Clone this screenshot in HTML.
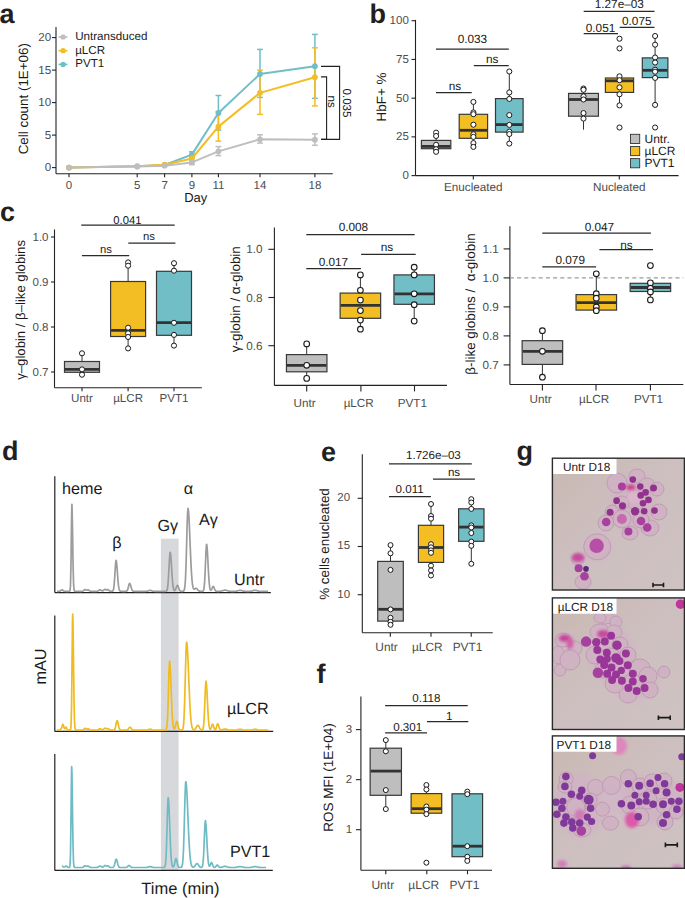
<!DOCTYPE html>
<html><head><meta charset="utf-8"><style>html,body{margin:0;padding:0;background:#fff;}svg{display:block;}</style></head><body>
<svg width="685" height="898" viewBox="0 0 685 898" font-family="Liberation Sans, sans-serif" text-rendering="geometricPrecision">
<rect width="685" height="898" fill="#fff"/>
<text x="-0.50" y="23.40" font-size="27" text-anchor="start" fill="#231f20" font-weight="bold">a</text>
<line x1="56.00" y1="27.00" x2="56.00" y2="173.80" stroke="#222" stroke-width="1.1"/>
<line x1="52.00" y1="167.60" x2="56.00" y2="167.60" stroke="#222" stroke-width="1.1"/>
<text x="51.20" y="171.10" font-size="11.6" text-anchor="end" fill="#4d4d4d">0</text>
<line x1="52.00" y1="135.10" x2="56.00" y2="135.10" stroke="#222" stroke-width="1.1"/>
<text x="51.20" y="138.60" font-size="11.6" text-anchor="end" fill="#4d4d4d">5</text>
<line x1="52.00" y1="102.60" x2="56.00" y2="102.60" stroke="#222" stroke-width="1.1"/>
<text x="51.20" y="106.10" font-size="11.6" text-anchor="end" fill="#4d4d4d">10</text>
<line x1="52.00" y1="70.10" x2="56.00" y2="70.10" stroke="#222" stroke-width="1.1"/>
<text x="51.20" y="73.60" font-size="11.6" text-anchor="end" fill="#4d4d4d">15</text>
<line x1="52.00" y1="37.60" x2="56.00" y2="37.60" stroke="#222" stroke-width="1.1"/>
<text x="51.20" y="41.10" font-size="11.6" text-anchor="end" fill="#4d4d4d">20</text>
<line x1="56.00" y1="173.80" x2="332.80" y2="173.80" stroke="#222" stroke-width="1.1"/>
<line x1="69.00" y1="173.80" x2="69.00" y2="177.30" stroke="#222" stroke-width="1.1"/>
<text x="69.00" y="188.50" font-size="11.5" text-anchor="middle" fill="#4d4d4d">0</text>
<line x1="137.20" y1="173.80" x2="137.20" y2="177.30" stroke="#222" stroke-width="1.1"/>
<text x="137.20" y="188.50" font-size="11.5" text-anchor="middle" fill="#4d4d4d">5</text>
<line x1="164.60" y1="173.80" x2="164.60" y2="177.30" stroke="#222" stroke-width="1.1"/>
<text x="164.60" y="188.50" font-size="11.5" text-anchor="middle" fill="#4d4d4d">7</text>
<line x1="191.90" y1="173.80" x2="191.90" y2="177.30" stroke="#222" stroke-width="1.1"/>
<text x="191.90" y="188.50" font-size="11.5" text-anchor="middle" fill="#4d4d4d">9</text>
<line x1="218.40" y1="173.80" x2="218.40" y2="177.30" stroke="#222" stroke-width="1.1"/>
<text x="218.40" y="188.50" font-size="11.5" text-anchor="middle" fill="#4d4d4d">11</text>
<line x1="260.00" y1="173.80" x2="260.00" y2="177.30" stroke="#222" stroke-width="1.1"/>
<text x="260.00" y="188.50" font-size="11.5" text-anchor="middle" fill="#4d4d4d">14</text>
<line x1="314.90" y1="173.80" x2="314.90" y2="177.30" stroke="#222" stroke-width="1.1"/>
<text x="314.90" y="188.50" font-size="11.5" text-anchor="middle" fill="#4d4d4d">18</text>
<text x="195.70" y="201.50" font-size="13" text-anchor="middle" fill="#1a1a1a">Day</text>
<text x="28.30" y="98.70" font-size="13.4" text-anchor="middle" fill="#1a1a1a" transform="rotate(-90 28.3 98.7)">Cell count (1E+06)</text>
<line x1="218.40" y1="146.60" x2="218.40" y2="155.60" stroke="#bebebe" stroke-width="1.5"/>
<line x1="215.50" y1="146.60" x2="221.30" y2="146.60" stroke="#bebebe" stroke-width="1.5"/>
<line x1="215.50" y1="155.60" x2="221.30" y2="155.60" stroke="#bebebe" stroke-width="1.5"/>
<line x1="260.00" y1="134.80" x2="260.00" y2="143.10" stroke="#bebebe" stroke-width="1.5"/>
<line x1="257.10" y1="134.80" x2="262.90" y2="134.80" stroke="#bebebe" stroke-width="1.5"/>
<line x1="257.10" y1="143.10" x2="262.90" y2="143.10" stroke="#bebebe" stroke-width="1.5"/>
<line x1="314.90" y1="133.90" x2="314.90" y2="145.30" stroke="#bebebe" stroke-width="1.5"/>
<line x1="312.00" y1="133.90" x2="317.80" y2="133.90" stroke="#bebebe" stroke-width="1.5"/>
<line x1="312.00" y1="145.30" x2="317.80" y2="145.30" stroke="#bebebe" stroke-width="1.5"/>
<line x1="191.90" y1="160.60" x2="191.90" y2="164.60" stroke="#bebebe" stroke-width="1.5"/>
<line x1="189.00" y1="160.60" x2="194.80" y2="160.60" stroke="#bebebe" stroke-width="1.5"/>
<line x1="189.00" y1="164.60" x2="194.80" y2="164.60" stroke="#bebebe" stroke-width="1.5"/>
<line x1="218.40" y1="95.50" x2="218.40" y2="130.10" stroke="#71bec7" stroke-width="1.5"/>
<line x1="215.50" y1="95.50" x2="221.30" y2="95.50" stroke="#71bec7" stroke-width="1.5"/>
<line x1="215.50" y1="130.10" x2="221.30" y2="130.10" stroke="#71bec7" stroke-width="1.5"/>
<line x1="260.00" y1="49.40" x2="260.00" y2="97.40" stroke="#71bec7" stroke-width="1.5"/>
<line x1="257.10" y1="49.40" x2="262.90" y2="49.40" stroke="#71bec7" stroke-width="1.5"/>
<line x1="257.10" y1="97.40" x2="262.90" y2="97.40" stroke="#71bec7" stroke-width="1.5"/>
<line x1="314.90" y1="34.40" x2="314.90" y2="98.30" stroke="#71bec7" stroke-width="1.5"/>
<line x1="312.00" y1="34.40" x2="317.80" y2="34.40" stroke="#71bec7" stroke-width="1.5"/>
<line x1="312.00" y1="98.30" x2="317.80" y2="98.30" stroke="#71bec7" stroke-width="1.5"/>
<line x1="191.90" y1="151.80" x2="191.90" y2="157.20" stroke="#71bec7" stroke-width="1.5"/>
<line x1="189.00" y1="151.80" x2="194.80" y2="151.80" stroke="#71bec7" stroke-width="1.5"/>
<line x1="189.00" y1="157.20" x2="194.80" y2="157.20" stroke="#71bec7" stroke-width="1.5"/>
<line x1="218.40" y1="111.60" x2="218.40" y2="141.10" stroke="#f2be23" stroke-width="1.5"/>
<line x1="215.50" y1="111.60" x2="221.30" y2="111.60" stroke="#f2be23" stroke-width="1.5"/>
<line x1="215.50" y1="141.10" x2="221.30" y2="141.10" stroke="#f2be23" stroke-width="1.5"/>
<line x1="260.00" y1="70.10" x2="260.00" y2="114.40" stroke="#f2be23" stroke-width="1.5"/>
<line x1="257.10" y1="70.10" x2="262.90" y2="70.10" stroke="#f2be23" stroke-width="1.5"/>
<line x1="257.10" y1="114.40" x2="262.90" y2="114.40" stroke="#f2be23" stroke-width="1.5"/>
<line x1="314.90" y1="47.80" x2="314.90" y2="105.90" stroke="#f2be23" stroke-width="1.5"/>
<line x1="312.00" y1="47.80" x2="317.80" y2="47.80" stroke="#f2be23" stroke-width="1.5"/>
<line x1="312.00" y1="105.90" x2="317.80" y2="105.90" stroke="#f2be23" stroke-width="1.5"/>
<line x1="191.90" y1="156.50" x2="191.90" y2="161.00" stroke="#f2be23" stroke-width="1.5"/>
<line x1="189.00" y1="156.50" x2="194.80" y2="156.50" stroke="#f2be23" stroke-width="1.5"/>
<line x1="189.00" y1="161.00" x2="194.80" y2="161.00" stroke="#f2be23" stroke-width="1.5"/>
<polyline points="69.00,167.60 137.20,166.30 164.60,165.00 191.90,154.60 218.40,113.00 260.00,74.00 314.90,66.20" fill="none" stroke="#71bec7" stroke-width="2" stroke-linejoin="round"/>
<circle cx="69.00" cy="167.60" r="2.9" fill="#71bec7" stroke="none" stroke-width="1"/>
<circle cx="137.20" cy="166.30" r="2.9" fill="#71bec7" stroke="none" stroke-width="1"/>
<circle cx="164.60" cy="165.00" r="2.9" fill="#71bec7" stroke="none" stroke-width="1"/>
<circle cx="191.90" cy="154.60" r="2.9" fill="#71bec7" stroke="none" stroke-width="1"/>
<circle cx="218.40" cy="113.00" r="2.9" fill="#71bec7" stroke="none" stroke-width="1"/>
<circle cx="260.00" cy="74.00" r="2.9" fill="#71bec7" stroke="none" stroke-width="1"/>
<circle cx="314.90" cy="66.20" r="2.9" fill="#71bec7" stroke="none" stroke-width="1"/>
<polyline points="69.00,167.60 137.20,166.30 164.60,164.67 191.90,158.50 218.40,126.65 260.00,92.85 314.90,77.25" fill="none" stroke="#f2be23" stroke-width="2" stroke-linejoin="round"/>
<circle cx="69.00" cy="167.60" r="2.9" fill="#f2be23" stroke="none" stroke-width="1"/>
<circle cx="137.20" cy="166.30" r="2.9" fill="#f2be23" stroke="none" stroke-width="1"/>
<circle cx="164.60" cy="164.67" r="2.9" fill="#f2be23" stroke="none" stroke-width="1"/>
<circle cx="191.90" cy="158.50" r="2.9" fill="#f2be23" stroke="none" stroke-width="1"/>
<circle cx="218.40" cy="126.65" r="2.9" fill="#f2be23" stroke="none" stroke-width="1"/>
<circle cx="260.00" cy="92.85" r="2.9" fill="#f2be23" stroke="none" stroke-width="1"/>
<circle cx="314.90" cy="77.25" r="2.9" fill="#f2be23" stroke="none" stroke-width="1"/>
<polyline points="69.00,167.60 137.20,166.62 164.60,165.65 191.90,162.40 218.40,151.35 260.00,139.32 314.90,139.65" fill="none" stroke="#bebebe" stroke-width="2" stroke-linejoin="round"/>
<circle cx="69.00" cy="167.60" r="2.9" fill="#bebebe" stroke="none" stroke-width="1"/>
<circle cx="137.20" cy="166.62" r="2.9" fill="#bebebe" stroke="none" stroke-width="1"/>
<circle cx="164.60" cy="165.65" r="2.9" fill="#bebebe" stroke="none" stroke-width="1"/>
<circle cx="191.90" cy="162.40" r="2.9" fill="#bebebe" stroke="none" stroke-width="1"/>
<circle cx="218.40" cy="151.35" r="2.9" fill="#bebebe" stroke="none" stroke-width="1"/>
<circle cx="260.00" cy="139.32" r="2.9" fill="#bebebe" stroke="none" stroke-width="1"/>
<circle cx="314.90" cy="139.65" r="2.9" fill="#bebebe" stroke="none" stroke-width="1"/>
<line x1="58.50" y1="37.00" x2="67.50" y2="37.00" stroke="#bebebe" stroke-width="1.6"/>
<circle cx="63.10" cy="37.00" r="2.6" fill="#bebebe" stroke="none" stroke-width="1"/>
<text x="75.20" y="40.10" font-size="11.6" text-anchor="start" fill="#1a1a1a">Untransduced</text>
<line x1="58.50" y1="50.70" x2="67.50" y2="50.70" stroke="#f2be23" stroke-width="1.6"/>
<circle cx="63.10" cy="50.70" r="2.6" fill="#f2be23" stroke="none" stroke-width="1"/>
<text x="75.20" y="53.60" font-size="11.6" text-anchor="start" fill="#1a1a1a">µLCR</text>
<line x1="58.50" y1="64.40" x2="67.50" y2="64.40" stroke="#71bec7" stroke-width="1.6"/>
<circle cx="63.10" cy="64.40" r="2.6" fill="#71bec7" stroke="none" stroke-width="1"/>
<text x="75.20" y="67.30" font-size="11.6" text-anchor="start" fill="#1a1a1a">PVT1</text>
<polyline points="321,66.4 339.6,66.4 339.6,139.4 321,139.4" fill="none" stroke="#222" stroke-width="1.1"/>
<polyline points="321,76.9 326.6,76.9 326.6,139.4 321,139.4" fill="none" stroke="#222" stroke-width="1.1"/>
<text x="342.60" y="103.00" font-size="11.6" text-anchor="middle" fill="#1a1a1a" transform="rotate(90 342.6 103)">0.035</text>
<text x="327.60" y="101.70" font-size="11.6" text-anchor="middle" fill="#1a1a1a" transform="rotate(90 327.6 101.7)">ns</text>
<text x="369.50" y="23.40" font-size="27" text-anchor="start" fill="#231f20" font-weight="bold">b</text>
<line x1="415.50" y1="19.90" x2="415.50" y2="175.60" stroke="#222" stroke-width="1.1"/>
<line x1="411.50" y1="175.60" x2="415.50" y2="175.60" stroke="#222" stroke-width="1.1"/>
<text x="408.80" y="179.00" font-size="11.5" text-anchor="end" fill="#4d4d4d">0</text>
<line x1="411.50" y1="136.88" x2="415.50" y2="136.88" stroke="#222" stroke-width="1.1"/>
<text x="408.80" y="140.28" font-size="11.5" text-anchor="end" fill="#4d4d4d">25</text>
<line x1="411.50" y1="98.15" x2="415.50" y2="98.15" stroke="#222" stroke-width="1.1"/>
<text x="408.80" y="101.55" font-size="11.5" text-anchor="end" fill="#4d4d4d">50</text>
<line x1="411.50" y1="59.42" x2="415.50" y2="59.42" stroke="#222" stroke-width="1.1"/>
<text x="408.80" y="62.82" font-size="11.5" text-anchor="end" fill="#4d4d4d">75</text>
<line x1="411.50" y1="20.70" x2="415.50" y2="20.70" stroke="#222" stroke-width="1.1"/>
<text x="408.80" y="24.10" font-size="11.5" text-anchor="end" fill="#4d4d4d">100</text>
<line x1="415.50" y1="175.60" x2="678.60" y2="175.60" stroke="#222" stroke-width="1.1"/>
<line x1="473.30" y1="175.60" x2="473.30" y2="179.60" stroke="#222" stroke-width="1.1"/>
<text x="473.30" y="191.20" font-size="11.7" text-anchor="middle" fill="#4d4d4d">Enucleated</text>
<line x1="619.30" y1="175.60" x2="619.30" y2="179.60" stroke="#222" stroke-width="1.1"/>
<text x="619.30" y="191.20" font-size="11.7" text-anchor="middle" fill="#4d4d4d">Nucleated</text>
<text x="386.40" y="97.00" font-size="13.4" text-anchor="middle" fill="#1a1a1a" transform="rotate(-90 386.4 97)">HbF+ %</text>
<line x1="436.10" y1="132.60" x2="436.10" y2="140.40" stroke="#333" stroke-width="1.0"/>
<line x1="436.10" y1="148.70" x2="436.10" y2="151.80" stroke="#333" stroke-width="1.0"/>
<rect x="421.40" y="140.40" width="29.40" height="8.30" fill="#bebebe" stroke="#383838" stroke-width="1.2"/>
<line x1="421.90" y1="146.40" x2="450.30" y2="146.40" stroke="#333" stroke-width="2.8"/>
<circle cx="436.10" cy="132.60" r="2.55" fill="#fff" stroke="#1a1a1a" stroke-width="1.0"/>
<circle cx="436.10" cy="136.00" r="2.55" fill="#fff" stroke="#1a1a1a" stroke-width="1.0"/>
<circle cx="436.10" cy="144.80" r="2.55" fill="#fff" stroke="#1a1a1a" stroke-width="1.0"/>
<circle cx="436.10" cy="149.20" r="2.55" fill="#fff" stroke="#1a1a1a" stroke-width="1.0"/>
<circle cx="436.10" cy="151.80" r="2.55" fill="#fff" stroke="#1a1a1a" stroke-width="1.0"/>
<line x1="473.40" y1="101.90" x2="473.40" y2="114.30" stroke="#333" stroke-width="1.0"/>
<line x1="473.40" y1="138.30" x2="473.40" y2="146.90" stroke="#333" stroke-width="1.0"/>
<rect x="459.20" y="114.30" width="28.40" height="24.00" fill="#f2be23" stroke="#383838" stroke-width="1.2"/>
<line x1="459.70" y1="130.30" x2="487.10" y2="130.30" stroke="#333" stroke-width="2.8"/>
<circle cx="473.40" cy="101.90" r="2.55" fill="#fff" stroke="#1a1a1a" stroke-width="1.0"/>
<circle cx="473.40" cy="112.40" r="2.55" fill="#fff" stroke="#1a1a1a" stroke-width="1.0"/>
<circle cx="473.40" cy="114.20" r="2.55" fill="#fff" stroke="#1a1a1a" stroke-width="1.0"/>
<circle cx="473.40" cy="124.70" r="2.55" fill="#fff" stroke="#1a1a1a" stroke-width="1.0"/>
<circle cx="473.40" cy="134.30" r="2.55" fill="#fff" stroke="#1a1a1a" stroke-width="1.0"/>
<circle cx="473.40" cy="136.90" r="2.55" fill="#fff" stroke="#1a1a1a" stroke-width="1.0"/>
<circle cx="473.40" cy="143.10" r="2.55" fill="#fff" stroke="#1a1a1a" stroke-width="1.0"/>
<circle cx="473.40" cy="146.90" r="2.55" fill="#fff" stroke="#1a1a1a" stroke-width="1.0"/>
<line x1="509.30" y1="71.50" x2="509.30" y2="98.60" stroke="#333" stroke-width="1.0"/>
<line x1="509.30" y1="132.10" x2="509.30" y2="143.60" stroke="#333" stroke-width="1.0"/>
<rect x="495.50" y="98.60" width="27.60" height="33.50" fill="#71bec7" stroke="#383838" stroke-width="1.2"/>
<line x1="496.00" y1="124.60" x2="522.60" y2="124.60" stroke="#333" stroke-width="2.8"/>
<circle cx="509.30" cy="71.50" r="2.55" fill="#fff" stroke="#1a1a1a" stroke-width="1.0"/>
<circle cx="509.30" cy="92.40" r="2.55" fill="#fff" stroke="#1a1a1a" stroke-width="1.0"/>
<circle cx="509.30" cy="98.90" r="2.55" fill="#fff" stroke="#1a1a1a" stroke-width="1.0"/>
<circle cx="509.30" cy="115.10" r="2.55" fill="#fff" stroke="#1a1a1a" stroke-width="1.0"/>
<circle cx="509.30" cy="124.90" r="2.55" fill="#fff" stroke="#1a1a1a" stroke-width="1.0"/>
<circle cx="509.30" cy="131.60" r="2.55" fill="#fff" stroke="#1a1a1a" stroke-width="1.0"/>
<circle cx="509.30" cy="134.10" r="2.55" fill="#fff" stroke="#1a1a1a" stroke-width="1.0"/>
<circle cx="509.30" cy="143.60" r="2.55" fill="#fff" stroke="#1a1a1a" stroke-width="1.0"/>
<line x1="583.50" y1="88.50" x2="583.50" y2="93.40" stroke="#333" stroke-width="1.0"/>
<line x1="583.50" y1="116.20" x2="583.50" y2="129.70" stroke="#333" stroke-width="1.0"/>
<rect x="568.55" y="93.40" width="29.90" height="22.80" fill="#bebebe" stroke="#383838" stroke-width="1.2"/>
<line x1="569.05" y1="99.50" x2="597.95" y2="99.50" stroke="#333" stroke-width="2.8"/>
<circle cx="583.50" cy="88.50" r="2.55" fill="#fff" stroke="#1a1a1a" stroke-width="1.0"/>
<circle cx="583.50" cy="89.80" r="2.55" fill="#fff" stroke="#1a1a1a" stroke-width="1.0"/>
<circle cx="583.50" cy="96.40" r="2.55" fill="#fff" stroke="#1a1a1a" stroke-width="1.0"/>
<circle cx="583.50" cy="99.50" r="2.55" fill="#fff" stroke="#1a1a1a" stroke-width="1.0"/>
<circle cx="583.50" cy="113.10" r="2.55" fill="#fff" stroke="#1a1a1a" stroke-width="1.0"/>
<circle cx="583.50" cy="118.60" r="2.55" fill="#fff" stroke="#1a1a1a" stroke-width="1.0"/>
<line x1="619.50" y1="76.30" x2="619.50" y2="78.00" stroke="#333" stroke-width="1.0"/>
<line x1="619.50" y1="92.40" x2="619.50" y2="105.40" stroke="#333" stroke-width="1.0"/>
<rect x="605.40" y="78.00" width="28.20" height="14.40" fill="#f2be23" stroke="#383838" stroke-width="1.2"/>
<line x1="605.90" y1="80.80" x2="633.10" y2="80.80" stroke="#333" stroke-width="2.8"/>
<circle cx="619.50" cy="38.70" r="2.55" fill="#fff" stroke="#1a1a1a" stroke-width="1.0"/>
<circle cx="619.50" cy="48.40" r="2.55" fill="#fff" stroke="#1a1a1a" stroke-width="1.0"/>
<circle cx="619.50" cy="76.30" r="2.55" fill="#fff" stroke="#1a1a1a" stroke-width="1.0"/>
<circle cx="619.50" cy="80.20" r="2.55" fill="#fff" stroke="#1a1a1a" stroke-width="1.0"/>
<circle cx="619.50" cy="87.40" r="2.55" fill="#fff" stroke="#1a1a1a" stroke-width="1.0"/>
<circle cx="619.50" cy="94.30" r="2.55" fill="#fff" stroke="#1a1a1a" stroke-width="1.0"/>
<circle cx="619.50" cy="105.40" r="2.55" fill="#fff" stroke="#1a1a1a" stroke-width="1.0"/>
<circle cx="619.50" cy="127.50" r="2.55" fill="#fff" stroke="#1a1a1a" stroke-width="1.0"/>
<line x1="655.10" y1="36.00" x2="655.10" y2="57.90" stroke="#333" stroke-width="1.0"/>
<line x1="655.10" y1="77.60" x2="655.10" y2="104.90" stroke="#333" stroke-width="1.0"/>
<rect x="642.30" y="57.90" width="25.60" height="19.70" fill="#71bec7" stroke="#383838" stroke-width="1.2"/>
<line x1="642.80" y1="70.30" x2="667.40" y2="70.30" stroke="#333" stroke-width="2.8"/>
<circle cx="655.10" cy="36.00" r="2.55" fill="#fff" stroke="#1a1a1a" stroke-width="1.0"/>
<circle cx="655.10" cy="44.70" r="2.55" fill="#fff" stroke="#1a1a1a" stroke-width="1.0"/>
<circle cx="655.10" cy="57.50" r="2.55" fill="#fff" stroke="#1a1a1a" stroke-width="1.0"/>
<circle cx="655.10" cy="62.50" r="2.55" fill="#fff" stroke="#1a1a1a" stroke-width="1.0"/>
<circle cx="655.10" cy="69.70" r="2.55" fill="#fff" stroke="#1a1a1a" stroke-width="1.0"/>
<circle cx="655.10" cy="71.70" r="2.55" fill="#fff" stroke="#1a1a1a" stroke-width="1.0"/>
<circle cx="655.10" cy="77.90" r="2.55" fill="#fff" stroke="#1a1a1a" stroke-width="1.0"/>
<circle cx="655.10" cy="104.90" r="2.55" fill="#fff" stroke="#1a1a1a" stroke-width="1.0"/>
<circle cx="655.10" cy="127.50" r="2.55" fill="#fff" stroke="#1a1a1a" stroke-width="1.0"/>
<line x1="436.00" y1="49.00" x2="508.80" y2="49.00" stroke="#2a2a2a" stroke-width="1.25"/>
<text x="472.40" y="42.90" font-size="11.8" text-anchor="middle" fill="#1a1a1a">0.033</text>
<line x1="473.80" y1="65.60" x2="508.80" y2="65.60" stroke="#2a2a2a" stroke-width="1.25"/>
<text x="492.30" y="62.60" font-size="11.8" text-anchor="middle" fill="#1a1a1a">ns</text>
<line x1="436.00" y1="92.50" x2="471.70" y2="92.50" stroke="#2a2a2a" stroke-width="1.25"/>
<text x="455.00" y="90.10" font-size="11.8" text-anchor="middle" fill="#1a1a1a">ns</text>
<line x1="583.70" y1="11.30" x2="654.50" y2="11.30" stroke="#2a2a2a" stroke-width="1.25"/>
<text x="619.30" y="8.20" font-size="11.8" text-anchor="middle" fill="#1a1a1a">1.27e–03</text>
<line x1="583.70" y1="33.60" x2="618.00" y2="33.60" stroke="#2a2a2a" stroke-width="1.25"/>
<text x="600.50" y="32.10" font-size="11.8" text-anchor="middle" fill="#1a1a1a">0.051</text>
<line x1="619.70" y1="27.40" x2="654.50" y2="27.40" stroke="#2a2a2a" stroke-width="1.25"/>
<text x="636.80" y="24.60" font-size="11.8" text-anchor="middle" fill="#1a1a1a">0.075</text>
<rect x="630.50" y="134.30" width="9.20" height="9.20" fill="#bebebe" stroke="#333" stroke-width="0.9"/>
<text x="644.50" y="143.00" font-size="12" text-anchor="start" fill="#1a1a1a">Untr.</text>
<rect x="630.50" y="146.45" width="9.20" height="9.20" fill="#f2be23" stroke="#333" stroke-width="0.9"/>
<text x="644.50" y="155.15" font-size="12" text-anchor="start" fill="#1a1a1a">µLCR</text>
<rect x="630.50" y="158.60" width="9.20" height="9.20" fill="#71bec7" stroke="#333" stroke-width="0.9"/>
<text x="644.50" y="167.30" font-size="12" text-anchor="start" fill="#1a1a1a">PVT1</text>
<text x="0.00" y="220.70" font-size="27" text-anchor="start" fill="#231f20" font-weight="bold">c</text>
<line x1="54.50" y1="229.50" x2="54.50" y2="387.70" stroke="#222" stroke-width="1.1"/>
<line x1="51.00" y1="372.00" x2="54.50" y2="372.00" stroke="#222" stroke-width="1.1"/>
<text x="48.50" y="376.10" font-size="11.5" text-anchor="end" fill="#4d4d4d">0.7</text>
<line x1="51.00" y1="327.00" x2="54.50" y2="327.00" stroke="#222" stroke-width="1.1"/>
<text x="48.50" y="331.10" font-size="11.5" text-anchor="end" fill="#4d4d4d">0.8</text>
<line x1="51.00" y1="282.00" x2="54.50" y2="282.00" stroke="#222" stroke-width="1.1"/>
<text x="48.50" y="286.10" font-size="11.5" text-anchor="end" fill="#4d4d4d">0.9</text>
<line x1="51.00" y1="237.00" x2="54.50" y2="237.00" stroke="#222" stroke-width="1.1"/>
<text x="48.50" y="241.10" font-size="11.5" text-anchor="end" fill="#4d4d4d">1.0</text>
<line x1="54.50" y1="387.70" x2="201.80" y2="387.70" stroke="#222" stroke-width="1.1"/>
<line x1="82.00" y1="387.70" x2="82.00" y2="391.20" stroke="#222" stroke-width="1.1"/>
<text x="82.00" y="402.10" font-size="11.6" text-anchor="middle" fill="#4d4d4d">Untr</text>
<line x1="128.10" y1="387.70" x2="128.10" y2="391.20" stroke="#222" stroke-width="1.1"/>
<text x="128.10" y="402.10" font-size="11.6" text-anchor="middle" fill="#4d4d4d">µLCR</text>
<line x1="174.00" y1="387.70" x2="174.00" y2="391.20" stroke="#222" stroke-width="1.1"/>
<text x="174.00" y="402.10" font-size="11.6" text-anchor="middle" fill="#4d4d4d">PVT1</text>
<text x="25.10" y="309.90" font-size="13.15" text-anchor="middle" fill="#1a1a1a" transform="rotate(-90 25.1 309.9)">γ–globin / β–like globins</text>
<line x1="82.00" y1="353.30" x2="82.00" y2="361.50" stroke="#333" stroke-width="1.0"/>
<line x1="82.00" y1="372.30" x2="82.00" y2="374.70" stroke="#333" stroke-width="1.0"/>
<rect x="64.50" y="361.50" width="35.00" height="10.80" fill="#bebebe" stroke="#383838" stroke-width="1.2"/>
<line x1="65.00" y1="369.40" x2="99.00" y2="369.40" stroke="#333" stroke-width="2.8"/>
<circle cx="82.00" cy="353.30" r="2.55" fill="#fff" stroke="#1a1a1a" stroke-width="1.0"/>
<circle cx="82.00" cy="369.40" r="2.55" fill="#fff" stroke="#1a1a1a" stroke-width="1.0"/>
<circle cx="82.00" cy="374.70" r="2.55" fill="#fff" stroke="#1a1a1a" stroke-width="1.0"/>
<line x1="128.10" y1="262.40" x2="128.10" y2="281.50" stroke="#333" stroke-width="1.0"/>
<line x1="128.10" y1="336.50" x2="128.10" y2="348.40" stroke="#333" stroke-width="1.0"/>
<rect x="110.60" y="281.50" width="35.00" height="55.00" fill="#f2be23" stroke="#383838" stroke-width="1.2"/>
<line x1="111.10" y1="330.40" x2="145.10" y2="330.40" stroke="#333" stroke-width="2.8"/>
<circle cx="128.10" cy="262.40" r="2.55" fill="#fff" stroke="#1a1a1a" stroke-width="1.0"/>
<circle cx="128.10" cy="265.70" r="2.55" fill="#fff" stroke="#1a1a1a" stroke-width="1.0"/>
<circle cx="128.10" cy="327.70" r="2.55" fill="#fff" stroke="#1a1a1a" stroke-width="1.0"/>
<circle cx="128.10" cy="333.30" r="2.55" fill="#fff" stroke="#1a1a1a" stroke-width="1.0"/>
<circle cx="128.10" cy="337.00" r="2.55" fill="#fff" stroke="#1a1a1a" stroke-width="1.0"/>
<circle cx="128.10" cy="348.40" r="2.55" fill="#fff" stroke="#1a1a1a" stroke-width="1.0"/>
<line x1="174.00" y1="263.20" x2="174.00" y2="271.30" stroke="#333" stroke-width="1.0"/>
<line x1="174.00" y1="335.30" x2="174.00" y2="345.60" stroke="#333" stroke-width="1.0"/>
<rect x="156.50" y="271.30" width="35.00" height="64.00" fill="#71bec7" stroke="#383838" stroke-width="1.2"/>
<line x1="157.00" y1="322.70" x2="191.00" y2="322.70" stroke="#333" stroke-width="2.8"/>
<circle cx="174.00" cy="263.20" r="2.55" fill="#fff" stroke="#1a1a1a" stroke-width="1.0"/>
<circle cx="174.00" cy="270.70" r="2.55" fill="#fff" stroke="#1a1a1a" stroke-width="1.0"/>
<circle cx="174.00" cy="322.80" r="2.55" fill="#fff" stroke="#1a1a1a" stroke-width="1.0"/>
<circle cx="174.00" cy="334.90" r="2.55" fill="#fff" stroke="#1a1a1a" stroke-width="1.0"/>
<circle cx="174.00" cy="345.60" r="2.55" fill="#fff" stroke="#1a1a1a" stroke-width="1.0"/>
<line x1="81.20" y1="225.10" x2="174.70" y2="225.10" stroke="#2a2a2a" stroke-width="1.25"/>
<text x="127.40" y="223.50" font-size="11.3" text-anchor="middle" fill="#1a1a1a">0.041</text>
<line x1="128.30" y1="243.00" x2="175.40" y2="243.00" stroke="#2a2a2a" stroke-width="1.25"/>
<text x="149.00" y="240.30" font-size="11.3" text-anchor="middle" fill="#1a1a1a">ns</text>
<line x1="81.90" y1="255.60" x2="129.20" y2="255.60" stroke="#2a2a2a" stroke-width="1.25"/>
<text x="105.90" y="252.90" font-size="11.3" text-anchor="middle" fill="#1a1a1a">ns</text>
<line x1="274.40" y1="227.60" x2="274.40" y2="385.40" stroke="#222" stroke-width="1.1"/>
<line x1="268.40" y1="345.70" x2="274.40" y2="345.70" stroke="#222" stroke-width="1.1"/>
<text x="262.60" y="349.80" font-size="11.7" text-anchor="end" fill="#4d4d4d">0.6</text>
<line x1="268.40" y1="297.50" x2="274.40" y2="297.50" stroke="#222" stroke-width="1.1"/>
<text x="262.60" y="301.60" font-size="11.7" text-anchor="end" fill="#4d4d4d">0.8</text>
<line x1="268.40" y1="249.30" x2="274.40" y2="249.30" stroke="#222" stroke-width="1.1"/>
<text x="262.60" y="253.40" font-size="11.7" text-anchor="end" fill="#4d4d4d">1.0</text>
<line x1="274.40" y1="385.40" x2="447.00" y2="385.40" stroke="#222" stroke-width="1.1"/>
<line x1="306.70" y1="385.40" x2="306.70" y2="391.40" stroke="#222" stroke-width="1.1"/>
<text x="304.50" y="406.60" font-size="11.7" text-anchor="middle" fill="#4d4d4d">Untr</text>
<line x1="360.90" y1="385.40" x2="360.90" y2="391.40" stroke="#222" stroke-width="1.1"/>
<text x="358.70" y="406.60" font-size="11.7" text-anchor="middle" fill="#4d4d4d">µLCR</text>
<line x1="414.50" y1="385.40" x2="414.50" y2="391.40" stroke="#222" stroke-width="1.1"/>
<text x="412.30" y="406.60" font-size="11.7" text-anchor="middle" fill="#4d4d4d">PVT1</text>
<text x="239.80" y="299.20" font-size="13.4" text-anchor="middle" fill="#1a1a1a" transform="rotate(-90 239.8 299.2)">γ-globin / α-globin</text>
<line x1="306.70" y1="343.90" x2="306.70" y2="354.60" stroke="#333" stroke-width="1.0"/>
<line x1="306.70" y1="371.80" x2="306.70" y2="378.40" stroke="#333" stroke-width="1.0"/>
<rect x="286.45" y="354.60" width="40.50" height="17.20" fill="#bebebe" stroke="#383838" stroke-width="1.2"/>
<line x1="286.95" y1="365.30" x2="326.45" y2="365.30" stroke="#333" stroke-width="2.8"/>
<circle cx="306.70" cy="343.90" r="2.85" fill="#fff" stroke="#1a1a1a" stroke-width="1.1"/>
<circle cx="306.70" cy="365.30" r="2.85" fill="#fff" stroke="#1a1a1a" stroke-width="1.1"/>
<circle cx="306.70" cy="378.40" r="2.85" fill="#fff" stroke="#1a1a1a" stroke-width="1.1"/>
<line x1="360.40" y1="274.90" x2="360.40" y2="293.10" stroke="#333" stroke-width="1.0"/>
<line x1="360.40" y1="318.30" x2="360.40" y2="329.20" stroke="#333" stroke-width="1.0"/>
<rect x="340.15" y="293.10" width="40.50" height="25.20" fill="#f2be23" stroke="#383838" stroke-width="1.2"/>
<line x1="340.65" y1="305.40" x2="380.15" y2="305.40" stroke="#333" stroke-width="2.8"/>
<circle cx="360.40" cy="274.90" r="2.85" fill="#fff" stroke="#1a1a1a" stroke-width="1.1"/>
<circle cx="360.40" cy="290.30" r="2.85" fill="#fff" stroke="#1a1a1a" stroke-width="1.1"/>
<circle cx="360.40" cy="300.10" r="2.85" fill="#fff" stroke="#1a1a1a" stroke-width="1.1"/>
<circle cx="360.40" cy="310.60" r="2.85" fill="#fff" stroke="#1a1a1a" stroke-width="1.1"/>
<circle cx="360.40" cy="320.10" r="2.85" fill="#fff" stroke="#1a1a1a" stroke-width="1.1"/>
<circle cx="360.40" cy="329.20" r="2.85" fill="#fff" stroke="#1a1a1a" stroke-width="1.1"/>
<line x1="414.20" y1="267.20" x2="414.20" y2="274.90" stroke="#333" stroke-width="1.0"/>
<line x1="414.20" y1="304.30" x2="414.20" y2="321.10" stroke="#333" stroke-width="1.0"/>
<rect x="393.95" y="274.90" width="40.50" height="29.40" fill="#71bec7" stroke="#383838" stroke-width="1.2"/>
<line x1="394.45" y1="293.80" x2="433.95" y2="293.80" stroke="#333" stroke-width="2.8"/>
<circle cx="414.20" cy="267.20" r="2.85" fill="#fff" stroke="#1a1a1a" stroke-width="1.1"/>
<circle cx="414.20" cy="274.90" r="2.85" fill="#fff" stroke="#1a1a1a" stroke-width="1.1"/>
<circle cx="414.20" cy="293.80" r="2.85" fill="#fff" stroke="#1a1a1a" stroke-width="1.1"/>
<circle cx="414.20" cy="304.70" r="2.85" fill="#fff" stroke="#1a1a1a" stroke-width="1.1"/>
<circle cx="414.20" cy="321.10" r="2.85" fill="#fff" stroke="#1a1a1a" stroke-width="1.1"/>
<line x1="306.30" y1="234.60" x2="414.70" y2="234.60" stroke="#2a2a2a" stroke-width="1.25"/>
<text x="353.40" y="230.90" font-size="11.8" text-anchor="middle" fill="#1a1a1a">0.008</text>
<line x1="361.10" y1="254.40" x2="415.70" y2="254.40" stroke="#2a2a2a" stroke-width="1.25"/>
<text x="386.90" y="250.60" font-size="11.8" text-anchor="middle" fill="#1a1a1a">ns</text>
<line x1="306.30" y1="268.50" x2="360.90" y2="268.50" stroke="#2a2a2a" stroke-width="1.25"/>
<text x="333.40" y="265.70" font-size="11.8" text-anchor="middle" fill="#1a1a1a">0.017</text>
<line x1="509.90" y1="226.20" x2="509.90" y2="384.50" stroke="#222" stroke-width="1.1"/>
<line x1="503.60" y1="364.90" x2="509.90" y2="364.90" stroke="#222" stroke-width="1.1"/>
<text x="498.80" y="369.00" font-size="11.7" text-anchor="end" fill="#4d4d4d">0.7</text>
<line x1="503.60" y1="335.90" x2="509.90" y2="335.90" stroke="#222" stroke-width="1.1"/>
<text x="498.80" y="340.00" font-size="11.7" text-anchor="end" fill="#4d4d4d">0.8</text>
<line x1="503.60" y1="306.90" x2="509.90" y2="306.90" stroke="#222" stroke-width="1.1"/>
<text x="498.80" y="311.00" font-size="11.7" text-anchor="end" fill="#4d4d4d">0.9</text>
<line x1="503.60" y1="277.90" x2="509.90" y2="277.90" stroke="#222" stroke-width="1.1"/>
<text x="498.80" y="282.00" font-size="11.7" text-anchor="end" fill="#4d4d4d">1.0</text>
<line x1="503.60" y1="248.90" x2="509.90" y2="248.90" stroke="#222" stroke-width="1.1"/>
<text x="498.80" y="253.00" font-size="11.7" text-anchor="end" fill="#4d4d4d">1.1</text>
<line x1="509.90" y1="277.90" x2="683.30" y2="277.90" stroke="#999" stroke-width="1.1" stroke-dasharray="4,3.2"/>
<line x1="509.90" y1="384.50" x2="683.30" y2="384.50" stroke="#222" stroke-width="1.1"/>
<line x1="542.40" y1="384.50" x2="542.40" y2="390.50" stroke="#222" stroke-width="1.1"/>
<text x="540.50" y="403.20" font-size="11.7" text-anchor="middle" fill="#4d4d4d">Untr</text>
<line x1="596.00" y1="384.50" x2="596.00" y2="390.50" stroke="#222" stroke-width="1.1"/>
<text x="594.10" y="403.20" font-size="11.7" text-anchor="middle" fill="#4d4d4d">µLCR</text>
<line x1="650.40" y1="384.50" x2="650.40" y2="390.50" stroke="#222" stroke-width="1.1"/>
<text x="648.50" y="403.20" font-size="11.7" text-anchor="middle" fill="#4d4d4d">PVT1</text>
<text x="474.80" y="304.00" font-size="13.4" text-anchor="middle" fill="#1a1a1a" transform="rotate(-90 474.8 304.0)" style="white-space:pre">β-like globins /  α-globin</text>
<line x1="542.40" y1="330.70" x2="542.40" y2="340.70" stroke="#333" stroke-width="1.0"/>
<line x1="542.40" y1="364.40" x2="542.40" y2="377.20" stroke="#333" stroke-width="1.0"/>
<rect x="522.15" y="340.70" width="40.50" height="23.70" fill="#bebebe" stroke="#383838" stroke-width="1.2"/>
<line x1="522.65" y1="351.30" x2="562.15" y2="351.30" stroke="#333" stroke-width="2.8"/>
<circle cx="542.40" cy="330.70" r="2.85" fill="#fff" stroke="#1a1a1a" stroke-width="1.1"/>
<circle cx="542.40" cy="351.30" r="2.85" fill="#fff" stroke="#1a1a1a" stroke-width="1.1"/>
<circle cx="542.40" cy="377.20" r="2.85" fill="#fff" stroke="#1a1a1a" stroke-width="1.1"/>
<line x1="596.30" y1="273.80" x2="596.30" y2="294.60" stroke="#333" stroke-width="1.0"/>
<line x1="596.30" y1="310.10" x2="596.30" y2="310.70" stroke="#333" stroke-width="1.0"/>
<rect x="576.05" y="294.60" width="40.50" height="15.50" fill="#f2be23" stroke="#383838" stroke-width="1.2"/>
<line x1="576.55" y1="302.60" x2="616.05" y2="302.60" stroke="#333" stroke-width="2.8"/>
<circle cx="596.30" cy="273.80" r="2.85" fill="#fff" stroke="#1a1a1a" stroke-width="1.1"/>
<circle cx="596.30" cy="293.70" r="2.85" fill="#fff" stroke="#1a1a1a" stroke-width="1.1"/>
<circle cx="596.30" cy="298.20" r="2.85" fill="#fff" stroke="#1a1a1a" stroke-width="1.1"/>
<circle cx="596.30" cy="307.00" r="2.85" fill="#fff" stroke="#1a1a1a" stroke-width="1.1"/>
<circle cx="596.30" cy="310.70" r="2.85" fill="#fff" stroke="#1a1a1a" stroke-width="1.1"/>
<line x1="650.40" y1="282.90" x2="650.40" y2="283.30" stroke="#333" stroke-width="1.0"/>
<line x1="650.40" y1="291.50" x2="650.40" y2="299.90" stroke="#333" stroke-width="1.0"/>
<rect x="630.15" y="283.30" width="40.50" height="8.20" fill="#71bec7" stroke="#383838" stroke-width="1.2"/>
<line x1="630.65" y1="287.50" x2="670.15" y2="287.50" stroke="#333" stroke-width="2.8"/>
<circle cx="650.40" cy="265.60" r="2.85" fill="#fff" stroke="#1a1a1a" stroke-width="1.1"/>
<circle cx="650.40" cy="282.90" r="2.85" fill="#fff" stroke="#1a1a1a" stroke-width="1.1"/>
<circle cx="650.40" cy="288.20" r="2.85" fill="#fff" stroke="#1a1a1a" stroke-width="1.1"/>
<circle cx="650.40" cy="292.00" r="2.85" fill="#fff" stroke="#1a1a1a" stroke-width="1.1"/>
<circle cx="650.40" cy="299.90" r="2.85" fill="#fff" stroke="#1a1a1a" stroke-width="1.1"/>
<line x1="542.30" y1="233.00" x2="650.90" y2="233.00" stroke="#2a2a2a" stroke-width="1.25"/>
<text x="599.40" y="230.80" font-size="11.8" text-anchor="middle" fill="#1a1a1a">0.047</text>
<line x1="599.40" y1="249.70" x2="653.00" y2="249.70" stroke="#2a2a2a" stroke-width="1.25"/>
<text x="626.50" y="249.00" font-size="11.8" text-anchor="middle" fill="#1a1a1a">ns</text>
<line x1="542.30" y1="266.90" x2="596.10" y2="266.90" stroke="#2a2a2a" stroke-width="1.25"/>
<text x="570.20" y="263.60" font-size="11.8" text-anchor="middle" fill="#1a1a1a">0.079</text>
<text x="2.00" y="460.30" font-size="27" text-anchor="start" fill="#231f20" font-weight="bold">d</text>
<rect x="160.90" y="538.70" width="17.70" height="331.70" fill="#d7d8db" stroke="none" stroke-width="1"/>
<line x1="54.80" y1="476.30" x2="54.80" y2="592.60" stroke="#231f20" stroke-width="1.2"/>
<line x1="54.80" y1="592.60" x2="270.80" y2="592.60" stroke="#231f20" stroke-width="1.2"/>
<line x1="54.80" y1="615.50" x2="54.80" y2="731.40" stroke="#231f20" stroke-width="1.2"/>
<line x1="54.80" y1="731.40" x2="273.20" y2="731.40" stroke="#231f20" stroke-width="1.2"/>
<line x1="54.80" y1="754.10" x2="54.80" y2="870.40" stroke="#231f20" stroke-width="1.2"/>
<line x1="54.80" y1="870.40" x2="272.80" y2="870.40" stroke="#231f20" stroke-width="1.2"/>
<polyline points="57.00,591.30 57.50,591.30 58.00,591.30 58.50,591.30 59.00,591.28 59.50,591.23 60.00,591.10 60.50,590.81 61.00,590.39 61.50,589.98 62.00,589.80 62.50,589.98 63.00,590.39 63.50,590.81 64.00,591.10 64.50,591.23 65.00,591.28 65.50,591.30 66.00,591.30 66.50,591.30 67.00,591.30 67.50,591.30 68.00,591.30 68.50,591.30 69.00,591.30 69.50,591.27 70.00,590.72 70.50,585.58 71.00,563.06 71.50,521.64 71.90,504.30 72.00,505.07 72.50,528.13 73.00,561.62 73.50,582.36 74.00,589.57 74.50,591.09 75.00,591.28 75.50,591.30 76.00,591.30 76.50,591.30 77.00,591.30 77.50,591.30 78.00,591.30 78.50,591.30 79.00,591.30 79.50,591.30 80.00,591.30 80.50,591.30 81.00,591.30 81.50,591.30 82.00,591.28 82.50,591.22 83.00,591.06 83.50,590.72 84.00,590.21 84.50,589.71 85.00,589.48 85.50,589.65 86.00,590.01 86.50,590.23 87.00,590.15 87.50,589.90 88.00,589.78 88.50,589.97 89.00,590.39 89.50,590.81 90.00,591.10 90.50,591.23 91.00,591.28 91.50,591.30 92.00,591.30 92.50,591.30 93.00,591.30 93.50,591.30 94.00,591.30 94.50,591.30 95.00,591.30 95.50,591.30 96.00,591.29 96.50,591.28 97.00,591.23 97.50,591.13 98.00,590.93 98.50,590.61 99.00,590.24 99.50,589.92 100.00,589.80 100.50,589.92 101.00,590.23 101.50,590.58 102.00,590.84 102.50,590.90 103.00,590.74 103.50,590.36 104.00,589.88 104.50,589.46 105.00,589.28 105.50,589.40 106.00,589.67 106.50,589.86 107.00,589.83 107.50,589.66 108.00,589.61 108.50,589.86 109.00,590.32 109.50,590.78 110.00,591.08 110.50,591.23 111.00,591.28 111.50,591.29 112.00,591.27 112.50,591.15 113.00,590.72 113.50,589.40 114.00,586.29 114.50,580.54 115.00,572.50 115.50,564.58 116.00,560.43 116.10,560.30 116.50,561.73 117.00,566.91 117.50,573.94 118.00,580.65 118.50,585.66 119.00,588.73 119.50,590.29 120.00,590.96 120.50,591.20 121.00,591.27 121.50,591.29 122.00,591.30 122.50,591.30 123.00,591.30 123.50,591.30 124.00,591.30 124.50,591.30 125.00,591.30 125.50,591.29 126.00,591.26 126.50,591.15 127.00,590.81 127.50,590.01 128.00,588.52 128.50,586.45 129.00,584.41 129.50,583.33 130.00,583.67 130.50,585.00 131.00,586.82 131.50,588.55 132.00,589.84 132.50,590.64 133.00,591.04 133.50,591.21 134.00,591.27 134.50,591.29 135.00,591.30 135.50,591.30 136.00,591.30 136.50,591.30 137.00,591.30 137.50,591.30 138.00,591.30 138.50,591.30 139.00,591.30 139.50,591.30 140.00,591.30 140.50,591.30 141.00,591.30 141.50,591.30 142.00,591.30 142.50,591.30 143.00,591.30 143.50,591.30 144.00,591.30 144.50,591.30 145.00,591.30 145.50,591.29 146.00,591.27 146.50,591.23 147.00,591.16 147.50,591.05 148.00,590.89 148.50,590.69 149.00,590.50 149.50,590.35 150.00,590.30 150.50,590.35 151.00,590.50 151.50,590.69 152.00,590.89 152.50,591.05 153.00,591.16 153.50,591.23 154.00,591.27 154.50,591.29 155.00,591.30 155.50,591.30 156.00,591.30 156.50,591.30 157.00,591.30 157.50,591.30 158.00,591.30 158.50,591.30 159.00,591.30 159.50,591.30 160.00,591.30 160.50,591.30 161.00,591.30 161.50,591.30 162.00,591.30 162.50,591.30 163.00,591.30 163.50,591.30 164.00,591.30 164.50,591.30 165.00,591.30 165.50,591.28 166.00,591.21 166.50,590.96 167.00,590.19 167.50,588.20 168.00,584.04 168.50,577.00 169.00,567.65 169.50,558.40 170.00,552.84 170.20,552.30 170.50,553.19 171.00,558.17 171.50,565.96 172.00,574.23 172.50,581.18 173.00,586.01 173.50,588.85 174.00,590.21 174.50,590.63 175.00,590.38 175.50,589.56 176.00,588.25 176.50,586.77 177.00,585.62 177.50,585.32 178.00,586.01 178.50,587.36 179.00,588.83 179.50,590.00 180.00,590.73 180.50,591.09 181.00,591.23 181.50,591.28 182.00,591.29 182.50,591.29 183.00,591.25 183.50,591.09 184.00,590.57 184.50,589.09 185.00,585.51 185.50,578.24 186.00,565.88 186.50,548.64 187.00,529.56 187.50,514.22 188.00,508.30 188.50,510.85 189.00,518.05 189.50,528.65 190.00,540.96 190.50,553.30 191.00,564.34 191.50,573.32 192.00,579.98 192.50,584.50 193.00,587.25 193.50,588.66 194.00,589.14 194.50,589.06 195.00,588.72 195.50,588.39 196.00,588.27 196.50,588.45 197.00,588.89 197.50,589.48 198.00,590.07 198.50,590.55 199.00,590.89 199.50,591.10 200.00,591.21 200.50,591.27 201.00,591.29 201.50,591.30 202.00,591.29 202.50,591.25 203.00,591.08 203.50,590.41 204.00,588.42 204.50,583.70 205.00,574.98 205.50,562.79 206.00,550.80 206.50,544.49 206.60,544.30 207.00,546.18 207.50,553.07 208.00,562.79 208.50,572.59 209.00,580.48 209.50,585.78 210.00,588.76 210.50,590.08 211.00,590.29 211.50,589.68 212.00,588.51 212.50,587.21 213.00,586.38 213.50,586.48 214.00,587.46 214.50,588.81 215.00,589.99 215.50,590.74 216.00,591.10 216.50,591.24 217.00,591.29 217.50,591.30 218.00,591.30 218.50,591.29 219.00,591.29 219.50,591.27 220.00,591.25 220.50,591.20 221.00,591.14 221.50,591.04 222.00,590.91 222.50,590.75 223.00,590.57 223.50,590.39 224.00,590.24 224.50,590.14 225.00,590.10 225.50,590.14 226.00,590.24 226.50,590.39 227.00,590.57 227.50,590.75 228.00,590.91 228.50,591.04 229.00,591.14 229.50,591.20 230.00,591.25 230.50,591.27 231.00,591.29 231.50,591.29 232.00,591.30 232.50,591.30 233.00,591.30 233.50,591.29 234.00,591.29 234.50,591.28 235.00,591.26 235.50,591.22 236.00,591.16 236.50,591.08 237.00,590.98 237.50,590.84 238.00,590.69 238.50,590.55 239.00,590.42 239.50,590.33 240.00,590.30 240.50,590.33 241.00,590.42 241.50,590.55 242.00,590.69 242.50,590.84 243.00,590.98 243.50,591.08 244.00,591.16 244.50,591.22 245.00,591.26 245.50,591.28 246.00,591.29 246.50,591.29 247.00,591.30 247.50,591.30 248.00,591.30 248.50,591.29 249.00,591.29 249.50,591.28 250.00,591.26 250.50,591.22 251.00,591.16 251.50,591.08 252.00,590.98 252.50,590.84 253.00,590.69 253.50,590.55 254.00,590.42 254.50,590.33 255.00,590.30 255.50,590.33 256.00,590.42 256.50,590.55 257.00,590.69 257.50,590.84 258.00,590.98 258.50,591.08 259.00,591.16 259.50,591.22 260.00,591.26 260.50,591.28 261.00,591.29 261.50,591.29 262.00,591.30 262.50,591.30 263.00,591.30 263.50,591.30 264.00,591.30 264.50,591.30 265.00,591.30 265.50,591.30 266.00,591.30 266.50,591.30 267.00,591.30 267.50,591.30 268.00,591.30" fill="none" stroke="#9c9c9c" stroke-width="1.7" stroke-linejoin="round"/>
<polyline points="57.00,730.20 57.50,730.20 58.00,730.20 58.50,730.20 59.00,730.18 59.50,730.13 60.00,729.99 60.50,729.68 61.00,729.07 61.50,728.01 62.00,726.41 62.50,724.76 63.00,724.29 63.50,725.58 64.00,727.58 64.50,728.75 65.00,728.59 65.50,727.69 66.00,727.20 66.50,727.73 67.00,728.83 67.50,729.68 68.00,730.07 68.50,730.18 69.00,730.20 69.50,730.20 70.00,730.18 70.50,729.82 71.00,726.41 71.50,709.10 72.00,665.24 72.50,619.56 72.70,614.20 73.00,622.08 73.50,659.84 74.00,699.22 74.50,720.97 75.00,728.34 75.50,729.95 76.00,730.18 76.50,730.20 77.00,730.20 77.50,730.20 78.00,730.20 78.50,730.20 79.00,730.20 79.50,730.20 80.00,730.20 80.50,730.20 81.00,730.20 81.50,730.20 82.00,730.18 82.50,730.12 83.00,729.96 83.50,729.62 84.00,729.11 84.50,728.61 85.00,728.38 85.50,728.55 86.00,728.91 86.50,729.13 87.00,729.05 87.50,728.80 88.00,728.68 88.50,728.87 89.00,729.29 89.50,729.71 90.00,730.00 90.50,730.13 91.00,730.18 91.50,730.20 92.00,730.20 92.50,730.20 93.00,730.20 93.50,730.20 94.00,730.20 94.50,730.20 95.00,730.20 95.50,730.20 96.00,730.19 96.50,730.18 97.00,730.13 97.50,730.03 98.00,729.83 98.50,729.51 99.00,729.14 99.50,728.82 100.00,728.70 100.50,728.82 101.00,729.13 101.50,729.48 102.00,729.74 102.50,729.80 103.00,729.64 103.50,729.26 104.00,728.78 104.50,728.36 105.00,728.18 105.50,728.30 106.00,728.57 106.50,728.76 107.00,728.73 107.50,728.56 108.00,728.51 108.50,728.76 109.00,729.22 109.50,729.68 110.00,729.98 110.50,730.13 111.00,730.18 111.50,730.20 112.00,730.20 112.50,730.20 113.00,730.19 113.50,730.16 114.00,730.02 114.50,729.62 115.00,728.66 115.50,726.90 116.00,724.44 116.50,722.01 117.00,720.74 117.50,721.21 118.00,723.03 118.50,725.39 119.00,727.49 119.50,728.91 120.00,729.69 120.50,730.03 121.00,730.15 121.50,730.19 122.00,730.20 122.50,730.20 123.00,730.20 123.50,730.20 124.00,730.20 124.50,730.20 125.00,730.20 125.50,730.20 126.00,730.19 126.50,730.16 127.00,730.07 127.50,729.86 128.00,729.45 128.50,728.83 129.00,728.08 129.50,727.45 130.00,727.20 130.50,727.45 131.00,728.08 131.50,728.83 132.00,729.45 132.50,729.86 133.00,730.07 133.50,730.16 134.00,730.19 134.50,730.20 135.00,730.20 135.50,730.20 136.00,730.20 136.50,730.20 137.00,730.20 137.50,730.20 138.00,730.20 138.50,730.20 139.00,730.20 139.50,730.20 140.00,730.20 140.50,730.20 141.00,730.20 141.50,730.20 142.00,730.20 142.50,730.20 143.00,730.20 143.50,730.20 144.00,730.20 144.50,730.20 145.00,730.20 145.50,730.19 146.00,730.17 146.50,730.13 147.00,730.06 147.50,729.95 148.00,729.79 148.50,729.59 149.00,729.40 149.50,729.25 150.00,729.20 150.50,729.25 151.00,729.40 151.50,729.59 152.00,729.79 152.50,729.95 153.00,730.06 153.50,730.13 154.00,730.17 154.50,730.19 155.00,730.20 155.50,730.20 156.00,730.20 156.50,730.20 157.00,730.20 157.50,730.20 158.00,730.20 158.50,730.20 159.00,730.20 159.50,730.20 160.00,730.20 160.50,730.20 161.00,730.20 161.50,730.20 162.00,730.20 162.50,730.20 163.00,730.20 163.50,730.20 164.00,730.20 164.50,730.20 165.00,730.19 165.50,730.13 166.00,729.87 166.50,728.90 167.00,725.98 167.50,719.05 168.00,706.24 168.50,688.35 169.00,670.74 169.50,661.48 169.60,661.20 170.00,663.61 170.50,672.57 171.00,685.56 171.50,699.27 172.00,711.01 172.50,719.55 173.00,724.89 173.50,727.75 174.00,728.91 174.50,728.86 175.00,727.73 175.50,725.69 176.00,723.28 176.50,721.53 177.00,721.35 177.50,722.85 178.00,725.24 178.50,727.47 179.00,728.98 179.50,729.76 180.00,730.07 180.50,730.17 181.00,730.19 181.50,730.16 182.00,730.03 182.50,729.59 183.00,728.30 183.50,725.07 184.00,718.29 184.50,706.33 185.00,688.94 185.50,668.68 186.00,651.09 186.50,642.46 186.60,642.20 187.00,643.78 187.50,649.92 188.00,659.74 188.50,671.76 189.00,684.40 189.50,696.29 190.00,706.47 190.50,714.51 191.00,720.40 191.50,724.42 192.00,726.97 192.50,728.49 193.00,729.32 193.50,729.72 194.00,729.82 194.50,729.68 195.00,729.29 195.50,728.65 196.00,727.76 196.50,726.76 197.00,725.86 197.50,725.30 198.00,725.24 198.50,725.72 199.00,726.57 199.50,727.57 200.00,728.49 200.50,729.21 201.00,729.68 201.50,729.95 202.00,730.03 202.50,729.85 203.00,729.00 203.50,726.49 204.00,720.82 204.50,710.86 205.00,697.79 205.50,686.01 206.00,681.20 206.50,684.23 207.00,692.23 207.50,702.60 208.00,712.54 208.50,720.25 209.00,725.26 209.50,728.00 210.00,729.17 210.50,729.26 211.00,728.45 211.50,726.90 212.00,725.18 212.50,724.23 213.00,724.66 213.50,726.20 214.00,727.94 214.50,729.17 215.00,729.69 215.50,729.53 216.00,728.65 216.50,727.03 217.00,725.11 217.50,723.83 218.00,723.93 218.50,725.20 219.00,726.95 219.50,728.47 220.00,729.42 220.50,729.85 221.00,729.97 221.50,729.92 222.00,729.81 222.50,729.65 223.00,729.47 223.50,729.29 224.00,729.14 224.50,729.04 225.00,729.00 225.50,729.04 226.00,729.14 226.50,729.29 227.00,729.47 227.50,729.65 228.00,729.81 228.50,729.94 229.00,730.04 229.50,730.10 230.00,730.15 230.50,730.17 231.00,730.19 231.50,730.19 232.00,730.20 232.50,730.20 233.00,730.20 233.50,730.19 234.00,730.19 234.50,730.18 235.00,730.16 235.50,730.12 236.00,730.06 236.50,729.98 237.00,729.88 237.50,729.74 238.00,729.59 238.50,729.45 239.00,729.32 239.50,729.23 240.00,729.20 240.50,729.23 241.00,729.32 241.50,729.45 242.00,729.59 242.50,729.74 243.00,729.88 243.50,729.98 244.00,730.06 244.50,730.12 245.00,730.16 245.50,730.18 246.00,730.19 246.50,730.19 247.00,730.20 247.50,730.20 248.00,730.20 248.50,730.19 249.00,730.19 249.50,730.18 250.00,730.16 250.50,730.12 251.00,730.06 251.50,729.98 252.00,729.88 252.50,729.74 253.00,729.59 253.50,729.45 254.00,729.32 254.50,729.23 255.00,729.20 255.50,729.23 256.00,729.32 256.50,729.45 257.00,729.59 257.50,729.74 258.00,729.88 258.50,729.98 259.00,730.06 259.50,730.12 260.00,730.16 260.50,730.18 261.00,730.19 261.50,730.19 262.00,730.20 262.50,730.20 263.00,730.20 263.50,730.20 264.00,730.20 264.50,730.20 265.00,730.20 265.50,730.20 266.00,730.20 266.50,730.20 267.00,730.20 267.50,730.20 268.00,730.20" fill="none" stroke="#f0bb1e" stroke-width="1.7" stroke-linejoin="round"/>
<polyline points="62.00,866.00 62.50,866.17 63.00,866.57 63.50,866.95 64.00,867.09 64.50,866.95 65.00,866.57 65.50,866.17 66.00,866.00 66.50,866.18 67.00,866.59 67.50,867.01 68.00,867.30 68.50,867.43 69.00,867.48 69.50,867.38 70.00,865.68 70.50,853.86 71.00,816.46 71.50,772.15 71.70,766.70 72.00,774.45 72.50,810.43 73.00,845.06 73.50,861.84 74.00,866.59 74.50,867.41 75.00,867.49 75.50,867.50 76.00,867.50 76.50,867.50 77.00,867.50 77.50,867.50 78.00,867.50 78.50,867.50 79.00,867.50 79.50,867.50 80.00,867.50 80.50,867.50 81.00,867.50 81.50,867.50 82.00,867.48 82.50,867.42 83.00,867.26 83.50,866.92 84.00,866.41 84.50,865.91 85.00,865.68 85.50,865.85 86.00,866.21 86.50,866.43 87.00,866.35 87.50,866.10 88.00,865.98 88.50,866.17 89.00,866.59 89.50,867.01 90.00,867.30 90.50,867.43 91.00,867.48 91.50,867.50 92.00,867.50 92.50,867.50 93.00,867.50 93.50,867.50 94.00,867.50 94.50,867.50 95.00,867.50 95.50,867.50 96.00,867.49 96.50,867.48 97.00,867.43 97.50,867.33 98.00,867.13 98.50,866.81 99.00,866.44 99.50,866.12 100.00,866.00 100.50,866.12 101.00,866.43 101.50,866.78 102.00,867.04 102.50,867.10 103.00,866.94 103.50,866.56 104.00,866.08 104.50,865.66 105.00,865.48 105.50,865.60 106.00,865.87 106.50,866.06 107.00,866.03 107.50,865.86 108.00,865.81 108.50,866.06 109.00,866.52 109.50,866.98 110.00,867.28 110.50,867.43 111.00,867.48 111.50,867.50 112.00,867.49 112.50,867.47 113.00,867.38 113.50,867.09 114.00,866.36 114.50,864.96 115.00,862.87 115.50,860.64 116.00,859.24 116.50,859.36 117.00,860.77 117.50,862.83 118.00,864.77 118.50,866.16 119.00,866.95 119.50,867.31 120.00,867.44 120.50,867.49 121.00,867.50 121.50,867.50 122.00,867.50 122.50,867.50 123.00,867.50 123.50,867.50 124.00,867.50 124.50,867.50 125.00,867.49 125.50,867.47 126.00,867.41 126.50,867.27 127.00,867.00 127.50,866.58 128.00,866.09 128.50,865.67 129.00,865.50 129.50,865.67 130.00,866.09 130.50,866.58 131.00,867.00 131.50,867.27 132.00,867.41 132.50,867.47 133.00,867.49 133.50,867.50 134.00,867.50 134.50,867.50 135.00,867.50 135.50,867.50 136.00,867.50 136.50,867.50 137.00,867.50 137.50,867.50 138.00,867.50 138.50,867.50 139.00,867.50 139.50,867.50 140.00,867.50 140.50,867.50 141.00,867.50 141.50,867.50 142.00,867.50 142.50,867.50 143.00,867.50 143.50,867.50 144.00,867.50 144.50,867.50 145.00,867.50 145.50,867.49 146.00,867.47 146.50,867.43 147.00,867.36 147.50,867.25 148.00,867.09 148.50,866.89 149.00,866.70 149.50,866.55 150.00,866.50 150.50,866.55 151.00,866.70 151.50,866.89 152.00,867.09 152.50,867.25 153.00,867.36 153.50,867.43 154.00,867.47 154.50,867.49 155.00,867.50 155.50,867.50 156.00,867.50 156.50,867.50 157.00,867.50 157.50,867.50 158.00,867.50 158.50,867.50 159.00,867.50 159.50,867.50 160.00,867.50 160.50,867.50 161.00,867.50 161.50,867.50 162.00,867.50 162.50,867.50 163.00,867.50 163.50,867.49 164.00,867.45 164.50,867.26 165.00,866.49 165.50,864.07 166.00,858.05 166.50,846.35 167.00,829.00 167.50,810.49 168.00,798.84 168.20,797.70 168.50,799.08 169.00,806.95 169.50,819.55 170.00,833.52 170.50,845.96 171.00,855.28 171.50,861.29 172.00,864.67 172.50,866.30 173.00,866.86 173.50,866.68 174.00,865.74 174.50,863.94 175.00,861.54 175.50,859.38 176.00,858.50 176.50,859.38 177.00,861.55 177.50,863.95 178.00,865.78 178.50,866.82 179.00,867.28 179.50,867.44 180.00,867.48 180.50,867.48 181.00,867.41 181.50,867.14 182.00,866.30 182.50,864.08 183.00,859.06 183.50,849.56 184.00,834.60 184.50,815.46 185.00,796.50 185.50,783.95 185.80,781.70 186.00,782.09 186.50,786.34 187.00,794.62 187.50,805.67 188.00,817.94 188.50,829.96 189.00,840.63 189.50,849.33 190.00,855.89 190.50,860.49 191.00,863.50 191.50,865.34 192.00,866.39 192.50,866.93 193.00,867.15 193.50,867.13 194.00,866.92 194.50,866.49 195.00,865.85 195.50,865.07 196.00,864.30 196.50,863.72 197.00,863.50 197.50,863.72 198.00,864.30 198.50,865.07 199.00,865.86 199.50,866.50 200.00,866.96 200.50,867.23 201.00,867.37 201.50,867.37 202.00,867.09 202.50,866.05 203.00,863.17 203.50,856.97 204.00,846.68 204.50,834.01 205.00,823.69 205.40,820.70 205.50,820.82 206.00,824.81 206.50,833.13 207.00,843.14 207.50,852.30 208.00,859.15 208.50,863.41 209.00,865.56 209.50,866.18 210.00,865.66 210.50,864.41 211.00,863.07 211.50,862.50 212.00,863.09 212.50,864.47 213.00,865.88 213.50,866.82 214.00,867.27 214.50,867.39 215.00,867.31 215.50,867.00 216.00,866.43 216.50,865.68 217.00,865.11 217.50,865.05 218.00,865.54 218.50,866.28 219.00,866.90 219.50,867.25 220.00,867.38 220.50,867.39 221.00,867.33 221.50,867.24 222.00,867.11 222.50,866.95 223.00,866.77 223.50,866.59 224.00,866.44 224.50,866.34 225.00,866.30 225.50,866.34 226.00,866.44 226.50,866.59 227.00,866.77 227.50,866.95 228.00,867.11 228.50,867.24 229.00,867.34 229.50,867.40 230.00,867.45 230.50,867.47 231.00,867.49 231.50,867.49 232.00,867.50 232.50,867.50 233.00,867.50 233.50,867.49 234.00,867.49 234.50,867.48 235.00,867.46 235.50,867.42 236.00,867.36 236.50,867.28 237.00,867.18 237.50,867.04 238.00,866.89 238.50,866.75 239.00,866.62 239.50,866.53 240.00,866.50 240.50,866.53 241.00,866.62 241.50,866.75 242.00,866.89 242.50,867.04 243.00,867.18 243.50,867.28 244.00,867.36 244.50,867.42 245.00,867.46 245.50,867.48 246.00,867.49 246.50,867.49 247.00,867.50 247.50,867.50 248.00,867.50 248.50,867.49 249.00,867.49 249.50,867.48 250.00,867.46 250.50,867.42 251.00,867.36 251.50,867.28 252.00,867.18 252.50,867.04 253.00,866.89 253.50,866.75 254.00,866.62 254.50,866.53 255.00,866.50 255.50,866.53 256.00,866.62 256.50,866.75 257.00,866.89 257.50,867.04 258.00,867.18 258.50,867.28 259.00,867.36 259.50,867.42 260.00,867.46 260.50,867.48 261.00,867.49 261.50,867.49 262.00,867.50 262.50,867.50 263.00,867.50 263.50,867.50 264.00,867.50 264.50,867.50 265.00,867.50 265.50,867.50 266.00,867.50" fill="none" stroke="#6fbbc4" stroke-width="1.7" stroke-linejoin="round"/>
<text x="61.90" y="493.50" font-size="16.2" text-anchor="start" fill="#1a1a1a">heme</text>
<text x="116.80" y="548.00" font-size="16.2" text-anchor="middle" fill="#1a1a1a">β</text>
<text x="157.40" y="531.30" font-size="16.2" text-anchor="start" fill="#1a1a1a">Gγ</text>
<text x="188.40" y="493.50" font-size="16.2" text-anchor="middle" fill="#1a1a1a">α</text>
<text x="198.90" y="525.20" font-size="16.2" text-anchor="start" fill="#1a1a1a">Aγ</text>
<text x="234.00" y="584.90" font-size="16.2" text-anchor="start" fill="#1a1a1a">Untr</text>
<text x="226.90" y="713.80" font-size="16.2" text-anchor="start" fill="#1a1a1a">µLCR</text>
<text x="229.90" y="857.00" font-size="16.2" text-anchor="start" fill="#1a1a1a">PVT1</text>
<text x="46.20" y="666.50" font-size="16.2" text-anchor="middle" fill="#1a1a1a" transform="rotate(-90 46.2 666.5)">mAU</text>
<text x="141.30" y="894.40" font-size="16.5" text-anchor="start" fill="#1a1a1a">Time (min)</text>
<text x="320.90" y="460.70" font-size="27" text-anchor="start" fill="#231f20" font-weight="bold">e</text>
<line x1="362.30" y1="454.30" x2="362.30" y2="632.70" stroke="#222" stroke-width="1.1"/>
<line x1="357.70" y1="594.70" x2="362.30" y2="594.70" stroke="#222" stroke-width="1.1"/>
<text x="350.10" y="597.60" font-size="11.5" text-anchor="end" fill="#4d4d4d">10</text>
<line x1="357.70" y1="546.50" x2="362.30" y2="546.50" stroke="#222" stroke-width="1.1"/>
<text x="350.10" y="549.40" font-size="11.5" text-anchor="end" fill="#4d4d4d">15</text>
<line x1="357.70" y1="498.30" x2="362.30" y2="498.30" stroke="#222" stroke-width="1.1"/>
<text x="350.10" y="501.20" font-size="11.5" text-anchor="end" fill="#4d4d4d">20</text>
<line x1="362.30" y1="632.70" x2="492.70" y2="632.70" stroke="#222" stroke-width="1.1"/>
<line x1="390.30" y1="632.70" x2="390.30" y2="636.70" stroke="#222" stroke-width="1.1"/>
<text x="386.60" y="651.00" font-size="11.9" text-anchor="middle" fill="#4d4d4d">Untr</text>
<line x1="431.00" y1="632.70" x2="431.00" y2="636.70" stroke="#222" stroke-width="1.1"/>
<text x="427.30" y="651.00" font-size="11.9" text-anchor="middle" fill="#4d4d4d">µLCR</text>
<line x1="471.20" y1="632.70" x2="471.20" y2="636.70" stroke="#222" stroke-width="1.1"/>
<text x="467.50" y="651.00" font-size="11.9" text-anchor="middle" fill="#4d4d4d">PVT1</text>
<text x="329.20" y="544.00" font-size="13.4" text-anchor="middle" fill="#1a1a1a" transform="rotate(-90 329.2 544.0)">% cells enucleated</text>
<line x1="390.50" y1="545.10" x2="390.50" y2="561.40" stroke="#333" stroke-width="1.0"/>
<line x1="390.50" y1="621.10" x2="390.50" y2="624.80" stroke="#333" stroke-width="1.0"/>
<rect x="377.70" y="561.40" width="25.60" height="59.70" fill="#bebebe" stroke="#383838" stroke-width="1.2"/>
<line x1="378.20" y1="609.30" x2="402.80" y2="609.30" stroke="#333" stroke-width="2.8"/>
<circle cx="390.50" cy="545.10" r="2.5" fill="#fff" stroke="#1a1a1a" stroke-width="1.0"/>
<circle cx="390.50" cy="553.30" r="2.5" fill="#fff" stroke="#1a1a1a" stroke-width="1.0"/>
<circle cx="390.50" cy="569.90" r="2.5" fill="#fff" stroke="#1a1a1a" stroke-width="1.0"/>
<circle cx="390.50" cy="609.40" r="2.5" fill="#fff" stroke="#1a1a1a" stroke-width="1.0"/>
<circle cx="390.50" cy="617.80" r="2.5" fill="#fff" stroke="#1a1a1a" stroke-width="1.0"/>
<circle cx="390.50" cy="621.80" r="2.5" fill="#fff" stroke="#1a1a1a" stroke-width="1.0"/>
<circle cx="390.50" cy="624.80" r="2.5" fill="#fff" stroke="#1a1a1a" stroke-width="1.0"/>
<line x1="431.00" y1="504.00" x2="431.00" y2="525.30" stroke="#333" stroke-width="1.0"/>
<line x1="431.00" y1="562.40" x2="431.00" y2="575.50" stroke="#333" stroke-width="1.0"/>
<rect x="418.40" y="525.30" width="25.20" height="37.10" fill="#f2be23" stroke="#383838" stroke-width="1.2"/>
<line x1="418.90" y1="547.50" x2="443.10" y2="547.50" stroke="#333" stroke-width="2.8"/>
<circle cx="431.00" cy="504.00" r="2.5" fill="#fff" stroke="#1a1a1a" stroke-width="1.0"/>
<circle cx="431.00" cy="516.00" r="2.5" fill="#fff" stroke="#1a1a1a" stroke-width="1.0"/>
<circle cx="431.00" cy="518.70" r="2.5" fill="#fff" stroke="#1a1a1a" stroke-width="1.0"/>
<circle cx="431.00" cy="544.20" r="2.5" fill="#fff" stroke="#1a1a1a" stroke-width="1.0"/>
<circle cx="431.00" cy="547.30" r="2.5" fill="#fff" stroke="#1a1a1a" stroke-width="1.0"/>
<circle cx="431.00" cy="550.40" r="2.5" fill="#fff" stroke="#1a1a1a" stroke-width="1.0"/>
<circle cx="431.00" cy="552.80" r="2.5" fill="#fff" stroke="#1a1a1a" stroke-width="1.0"/>
<circle cx="431.00" cy="565.70" r="2.5" fill="#fff" stroke="#1a1a1a" stroke-width="1.0"/>
<circle cx="431.00" cy="570.40" r="2.5" fill="#fff" stroke="#1a1a1a" stroke-width="1.0"/>
<circle cx="431.00" cy="575.50" r="2.5" fill="#fff" stroke="#1a1a1a" stroke-width="1.0"/>
<line x1="471.30" y1="499.20" x2="471.30" y2="508.80" stroke="#333" stroke-width="1.0"/>
<line x1="471.30" y1="541.30" x2="471.30" y2="563.80" stroke="#333" stroke-width="1.0"/>
<rect x="458.60" y="508.80" width="25.40" height="32.50" fill="#71bec7" stroke="#383838" stroke-width="1.2"/>
<line x1="459.10" y1="527.10" x2="483.50" y2="527.10" stroke="#333" stroke-width="2.8"/>
<circle cx="471.30" cy="499.20" r="2.5" fill="#fff" stroke="#1a1a1a" stroke-width="1.0"/>
<circle cx="471.30" cy="502.50" r="2.5" fill="#fff" stroke="#1a1a1a" stroke-width="1.0"/>
<circle cx="471.30" cy="508.90" r="2.5" fill="#fff" stroke="#1a1a1a" stroke-width="1.0"/>
<circle cx="471.30" cy="525.40" r="2.5" fill="#fff" stroke="#1a1a1a" stroke-width="1.0"/>
<circle cx="471.30" cy="527.50" r="2.5" fill="#fff" stroke="#1a1a1a" stroke-width="1.0"/>
<circle cx="471.30" cy="533.00" r="2.5" fill="#fff" stroke="#1a1a1a" stroke-width="1.0"/>
<circle cx="471.30" cy="541.60" r="2.5" fill="#fff" stroke="#1a1a1a" stroke-width="1.0"/>
<circle cx="471.30" cy="545.80" r="2.5" fill="#fff" stroke="#1a1a1a" stroke-width="1.0"/>
<circle cx="471.30" cy="563.80" r="2.5" fill="#fff" stroke="#1a1a1a" stroke-width="1.0"/>
<line x1="389.00" y1="463.90" x2="471.80" y2="463.90" stroke="#2a2a2a" stroke-width="1.25"/>
<text x="433.40" y="459.40" font-size="11.6" text-anchor="middle" fill="#1a1a1a">1.726e–03</text>
<line x1="433.00" y1="479.20" x2="474.90" y2="479.20" stroke="#2a2a2a" stroke-width="1.25"/>
<text x="454.00" y="475.80" font-size="11.6" text-anchor="middle" fill="#1a1a1a">ns</text>
<line x1="389.00" y1="496.60" x2="430.90" y2="496.60" stroke="#2a2a2a" stroke-width="1.25"/>
<text x="409.60" y="493.10" font-size="11.6" text-anchor="middle" fill="#1a1a1a">0.011</text>
<text x="316.50" y="683.30" font-size="27" text-anchor="start" fill="#231f20" font-weight="bold">f</text>
<line x1="360.90" y1="696.60" x2="360.90" y2="870.30" stroke="#222" stroke-width="1.1"/>
<line x1="355.90" y1="829.70" x2="360.90" y2="829.70" stroke="#222" stroke-width="1.1"/>
<text x="352.20" y="833.10" font-size="11.5" text-anchor="end" fill="#4d4d4d">1</text>
<line x1="355.90" y1="779.65" x2="360.90" y2="779.65" stroke="#222" stroke-width="1.1"/>
<text x="352.20" y="783.05" font-size="11.5" text-anchor="end" fill="#4d4d4d">2</text>
<line x1="355.90" y1="729.60" x2="360.90" y2="729.60" stroke="#222" stroke-width="1.1"/>
<text x="352.20" y="733.00" font-size="11.5" text-anchor="end" fill="#4d4d4d">3</text>
<line x1="360.90" y1="870.30" x2="492.00" y2="870.30" stroke="#222" stroke-width="1.1"/>
<line x1="385.80" y1="870.30" x2="385.80" y2="874.30" stroke="#222" stroke-width="1.1"/>
<text x="382.80" y="889.00" font-size="12.0" text-anchor="middle" fill="#4d4d4d">Untr</text>
<line x1="426.80" y1="870.30" x2="426.80" y2="874.30" stroke="#222" stroke-width="1.1"/>
<text x="423.80" y="889.00" font-size="12.0" text-anchor="middle" fill="#4d4d4d">µLCR</text>
<line x1="467.50" y1="870.30" x2="467.50" y2="874.30" stroke="#222" stroke-width="1.1"/>
<text x="464.50" y="889.00" font-size="12.0" text-anchor="middle" fill="#4d4d4d">PVT1</text>
<text x="333.00" y="777.50" font-size="13.5" text-anchor="middle" fill="#1a1a1a" transform="rotate(-90 333.0 777.5)">ROS MFI (1E+04)</text>
<line x1="385.80" y1="740.10" x2="385.80" y2="748.20" stroke="#333" stroke-width="1.0"/>
<line x1="385.80" y1="795.30" x2="385.80" y2="809.10" stroke="#333" stroke-width="1.0"/>
<rect x="370.15" y="748.20" width="31.30" height="47.10" fill="#bebebe" stroke="#383838" stroke-width="1.2"/>
<line x1="370.65" y1="771.10" x2="400.95" y2="771.10" stroke="#333" stroke-width="2.8"/>
<circle cx="385.80" cy="740.10" r="2.5" fill="#fff" stroke="#1a1a1a" stroke-width="1.0"/>
<circle cx="385.80" cy="751.30" r="2.5" fill="#fff" stroke="#1a1a1a" stroke-width="1.0"/>
<circle cx="385.80" cy="790.10" r="2.5" fill="#fff" stroke="#1a1a1a" stroke-width="1.0"/>
<circle cx="385.80" cy="809.10" r="2.5" fill="#fff" stroke="#1a1a1a" stroke-width="1.0"/>
<line x1="426.40" y1="785.00" x2="426.40" y2="793.60" stroke="#333" stroke-width="1.0"/>
<line x1="426.40" y1="813.20" x2="426.40" y2="814.10" stroke="#333" stroke-width="1.0"/>
<rect x="411.10" y="793.60" width="30.60" height="19.60" fill="#f2be23" stroke="#383838" stroke-width="1.2"/>
<line x1="411.60" y1="808.70" x2="441.20" y2="808.70" stroke="#333" stroke-width="2.8"/>
<circle cx="426.40" cy="785.00" r="2.5" fill="#fff" stroke="#1a1a1a" stroke-width="1.0"/>
<circle cx="426.40" cy="789.50" r="2.5" fill="#fff" stroke="#1a1a1a" stroke-width="1.0"/>
<circle cx="426.40" cy="806.50" r="2.5" fill="#fff" stroke="#1a1a1a" stroke-width="1.0"/>
<circle cx="426.40" cy="809.60" r="2.5" fill="#fff" stroke="#1a1a1a" stroke-width="1.0"/>
<circle cx="426.40" cy="814.10" r="2.5" fill="#fff" stroke="#1a1a1a" stroke-width="1.0"/>
<circle cx="426.40" cy="862.70" r="2.5" fill="#fff" stroke="#1a1a1a" stroke-width="1.0"/>
<line x1="467.30" y1="791.60" x2="467.30" y2="793.80" stroke="#333" stroke-width="1.0"/>
<line x1="467.30" y1="856.70" x2="467.30" y2="860.90" stroke="#333" stroke-width="1.0"/>
<rect x="452.00" y="793.80" width="30.60" height="62.90" fill="#71bec7" stroke="#383838" stroke-width="1.2"/>
<line x1="452.50" y1="846.20" x2="482.10" y2="846.20" stroke="#333" stroke-width="2.8"/>
<circle cx="467.30" cy="791.60" r="2.5" fill="#fff" stroke="#1a1a1a" stroke-width="1.0"/>
<circle cx="467.30" cy="794.20" r="2.5" fill="#fff" stroke="#1a1a1a" stroke-width="1.0"/>
<circle cx="467.30" cy="846.20" r="2.5" fill="#fff" stroke="#1a1a1a" stroke-width="1.0"/>
<circle cx="467.30" cy="856.70" r="2.5" fill="#fff" stroke="#1a1a1a" stroke-width="1.0"/>
<circle cx="467.30" cy="860.90" r="2.5" fill="#fff" stroke="#1a1a1a" stroke-width="1.0"/>
<line x1="385.10" y1="705.60" x2="467.70" y2="705.60" stroke="#2a2a2a" stroke-width="1.25"/>
<text x="426.40" y="701.80" font-size="11.6" text-anchor="middle" fill="#1a1a1a">0.118</text>
<line x1="427.00" y1="721.60" x2="468.30" y2="721.60" stroke="#2a2a2a" stroke-width="1.25"/>
<text x="449.30" y="719.80" font-size="11.6" text-anchor="middle" fill="#1a1a1a">1</text>
<line x1="385.10" y1="732.80" x2="427.00" y2="732.80" stroke="#2a2a2a" stroke-width="1.25"/>
<text x="407.70" y="731.30" font-size="11.6" text-anchor="middle" fill="#1a1a1a">0.301</text>
<text x="516.50" y="459.50" font-size="27" text-anchor="start" fill="#231f20" font-weight="bold">g</text>
<defs><filter id="bl" x="-5%" y="-5%" width="110%" height="110%"><feGaussianBlur stdDeviation="0.7"/></filter><filter id="bl3" x="-50%" y="-50%" width="200%" height="200%"><feGaussianBlur stdDeviation="4"/></filter><filter id="bl2" x="-50%" y="-50%" width="200%" height="200%"><feGaussianBlur stdDeviation="1.8"/></filter><clipPath id="cg1"><rect x="552.4" y="458.2" width="132" height="131.8"/></clipPath><clipPath id="cg2"><rect x="552.4" y="597.9" width="132" height="131.6"/></clipPath><clipPath id="cg3"><rect x="552.4" y="735.9" width="132" height="132.4"/></clipPath><linearGradient id="bg1" x1="0" y1="0" x2="1" y2="1"><stop offset="0" stop-color="#c9b8b1"/><stop offset="0.45" stop-color="#cdbfbf"/><stop offset="1" stop-color="#cfc2c3"/></linearGradient></defs>
<g clip-path="url(#cg1)">
<rect x="552.40" y="458.20" width="132.00" height="131.80" fill="url(#bg1)" stroke="none" stroke-width="1"/>
<g filter="url(#bl3)">
<ellipse cx="634" cy="502" rx="24" ry="28" fill="#cfb4c3"/>
<ellipse cx="597" cy="547" rx="14" ry="14" fill="#cfb6c4"/>
</g>
<g filter="url(#bl)">
<ellipse cx="617" cy="483" rx="10" ry="10" fill="#d0b3c3" stroke="#bd98b1" stroke-width="0.9"/>
<ellipse cx="637" cy="476" rx="8" ry="7" fill="#d0b3c3" stroke="#bd98b1" stroke-width="0.9"/>
<ellipse cx="647" cy="485" rx="8" ry="7" fill="#d0b3c3" stroke="#bd98b1" stroke-width="0.9"/>
<ellipse cx="657" cy="489" rx="7" ry="7" fill="#d0b3c3" stroke="#bd98b1" stroke-width="0.9"/>
<ellipse cx="612" cy="513" rx="7" ry="8" fill="#d0b3c3" stroke="#bd98b1" stroke-width="0.9"/>
<ellipse cx="606" cy="523" rx="8" ry="8" fill="#d0b3c3" stroke="#bd98b1" stroke-width="0.9"/>
<ellipse cx="622" cy="519" rx="9" ry="9" fill="#d0b3c3" stroke="#bd98b1" stroke-width="0.9"/>
<ellipse cx="630" cy="533" rx="8" ry="7" fill="#d0b3c3" stroke="#bd98b1" stroke-width="0.9"/>
<ellipse cx="650" cy="528" rx="9" ry="8" fill="#d0b3c3" stroke="#bd98b1" stroke-width="0.9"/>
<ellipse cx="659" cy="512" rx="8" ry="8" fill="#d0b3c3" stroke="#bd98b1" stroke-width="0.9"/>
<ellipse cx="641" cy="520" rx="8" ry="8" fill="#d0b3c3" stroke="#bd98b1" stroke-width="0.9"/>
<ellipse cx="636" cy="500" rx="10" ry="10" fill="#d0b3c3" stroke="#bd98b1" stroke-width="0.9"/>
<ellipse cx="622" cy="503" rx="7" ry="7" fill="#d0b3c3" stroke="#bd98b1" stroke-width="0.9"/>
<ellipse cx="597.2" cy="546.8" rx="13.5" ry="13" fill="#d0b3c3" stroke="#bd98b1" stroke-width="0.9"/>
<ellipse cx="583" cy="582" rx="8" ry="7" fill="#d0b3c3" stroke="#bd98b1" stroke-width="0.9"/>
<ellipse cx="578" cy="560" rx="6" ry="5" fill="#d0b3c3" stroke="#bd98b1" stroke-width="0.9"/>
</g><g filter="url(#bl2)">
<ellipse cx="630.8" cy="487.5" rx="4.5" ry="3" fill="#d0408f"/>
<ellipse cx="578" cy="557.6" rx="6.5" ry="4.5" fill="#c64a9f"/>
<ellipse cx="633" cy="497" rx="6" ry="6" fill="#dcb5cc"/>
</g><g filter="url(#bl)">
<circle cx="632.8" cy="479.6" r="3.30" fill="#92338f"/>
<circle cx="621.9" cy="486.5" r="4.00" fill="#a8409f"/>
<circle cx="640.3" cy="486.5" r="3.30" fill="#92338f"/>
<circle cx="645.6" cy="492.4" r="3.30" fill="#92338f"/>
<circle cx="653.5" cy="488.1" r="3.50" fill="#92338f"/>
<circle cx="640.7" cy="495.4" r="3.30" fill="#92338f"/>
<circle cx="648.5" cy="499.9" r="3.30" fill="#92338f"/>
<circle cx="643" cy="503.3" r="3.30" fill="#92338f"/>
<circle cx="616.6" cy="500.7" r="3.40" fill="#92338f"/>
<circle cx="622.5" cy="505.8" r="3.60" fill="#92338f"/>
<circle cx="610.1" cy="512.2" r="3.50" fill="#92338f"/>
<circle cx="635.1" cy="511.2" r="4.20" fill="#92338f"/>
<circle cx="644.2" cy="511.2" r="3.30" fill="#92338f"/>
<circle cx="654.5" cy="510.6" r="3.30" fill="#92338f"/>
<circle cx="606.2" cy="522" r="4.30" fill="#a8409f"/>
<circle cx="621.9" cy="519" r="5.00" fill="#c56bb0"/>
<circle cx="641" cy="521" r="4.30" fill="#a8409f"/>
<circle cx="647.2" cy="527.5" r="4.30" fill="#a8409f"/>
<circle cx="628.4" cy="531.5" r="4.00" fill="#a8409f"/>
<circle cx="596.6" cy="545.8" r="7.20" fill="#b650a5"/>
<circle cx="578.6" cy="568.3" r="4.00" fill="#a8409f"/>
<circle cx="586" cy="568.9" r="2.80" fill="#5a2a7a"/>
<circle cx="584.5" cy="576.2" r="4.30" fill="#a8409f"/>
</g>
<line x1="653.00" y1="585.00" x2="663.50" y2="585.00" stroke="#1a1a1a" stroke-width="1.7"/>
<line x1="653.00" y1="582.70" x2="653.00" y2="587.30" stroke="#1a1a1a" stroke-width="1.6"/>
<line x1="663.50" y1="582.70" x2="663.50" y2="587.30" stroke="#1a1a1a" stroke-width="1.6"/>
</g>
<rect x="552.40" y="458.20" width="64.10" height="15.80" fill="#fff" stroke="none" stroke-width="1"/>
<text x="586.60" y="471.10" font-size="11.8" text-anchor="middle" fill="#1a1a1a">Untr D18</text>
<rect x="552.4" y="458.2" width="132" height="131.8" fill="none" stroke="#2a2a2a" stroke-width="1.4"/>
<g clip-path="url(#cg2)">
<rect x="552.40" y="597.90" width="132.00" height="131.60" fill="url(#bg1)" stroke="none" stroke-width="1"/>
<g filter="url(#bl3)">
<ellipse cx="612" cy="655" rx="22" ry="28" fill="#cfb4c3"/>
<ellipse cx="635" cy="682" rx="22" ry="18" fill="#cfb4c3"/>
<ellipse cx="566" cy="650" rx="12" ry="16" fill="#cfb8c4"/>
</g>
<g filter="url(#bl)">
<ellipse cx="558" cy="655" rx="6" ry="9" fill="#d0b3c3" stroke="#bd98b1" stroke-width="0.9"/>
<ellipse cx="560" cy="670" rx="6" ry="6" fill="#d0b3c3" stroke="#bd98b1" stroke-width="0.9"/>
<ellipse cx="575" cy="648" rx="7" ry="7" fill="#d0b3c3" stroke="#bd98b1" stroke-width="0.9"/>
<ellipse cx="606" cy="618" rx="8" ry="6" fill="#d0b3c3" stroke="#bd98b1" stroke-width="0.9"/>
<ellipse cx="616" cy="622" rx="6" ry="6" fill="#d0b3c3" stroke="#bd98b1" stroke-width="0.9"/>
<ellipse cx="600" cy="632" rx="10" ry="8" fill="#d0b3c3" stroke="#bd98b1" stroke-width="0.9"/>
<ellipse cx="614" cy="632" rx="8" ry="7" fill="#d0b3c3" stroke="#bd98b1" stroke-width="0.9"/>
<ellipse cx="620" cy="645" rx="8" ry="8" fill="#d0b3c3" stroke="#bd98b1" stroke-width="0.9"/>
<ellipse cx="595" cy="655" rx="9" ry="9" fill="#d0b3c3" stroke="#bd98b1" stroke-width="0.9"/>
<ellipse cx="610" cy="660" rx="12" ry="12" fill="#d0b3c3" stroke="#bd98b1" stroke-width="0.9"/>
<ellipse cx="628" cy="655" rx="8" ry="8" fill="#d0b3c3" stroke="#bd98b1" stroke-width="0.9"/>
<ellipse cx="604" cy="670" rx="9" ry="8" fill="#d0b3c3" stroke="#bd98b1" stroke-width="0.9"/>
<ellipse cx="620" cy="672" rx="10" ry="9" fill="#d0b3c3" stroke="#bd98b1" stroke-width="0.9"/>
<ellipse cx="640" cy="668" rx="10" ry="9" fill="#d0b3c3" stroke="#bd98b1" stroke-width="0.9"/>
<ellipse cx="648" cy="676" rx="9" ry="9" fill="#d0b3c3" stroke="#bd98b1" stroke-width="0.9"/>
<ellipse cx="615" cy="684" rx="10" ry="9" fill="#d0b3c3" stroke="#bd98b1" stroke-width="0.9"/>
<ellipse cx="632" cy="684" rx="10" ry="10" fill="#d0b3c3" stroke="#bd98b1" stroke-width="0.9"/>
<ellipse cx="650" cy="690" rx="8" ry="8" fill="#d0b3c3" stroke="#bd98b1" stroke-width="0.9"/>
<ellipse cx="628" cy="695" rx="9" ry="8" fill="#d0b3c3" stroke="#bd98b1" stroke-width="0.9"/>
<ellipse cx="563" cy="640" rx="8" ry="7" fill="#d0b3c3" stroke="#bd98b1" stroke-width="0.9"/>
<ellipse cx="570" cy="660" rx="10" ry="10" fill="#d0b3c3" stroke="#bd98b1" stroke-width="0.9"/>
<ellipse cx="600" cy="618" rx="6" ry="5" fill="#d0b3c3" stroke="#bd98b1" stroke-width="0.9"/>
<ellipse cx="664" cy="672" rx="6" ry="6" fill="#d0b3c3" stroke="#bd98b1" stroke-width="0.9"/>
</g><g filter="url(#bl2)">
<ellipse cx="564.8" cy="638.3" rx="6" ry="3.5" fill="#c8409a"/>
<ellipse cx="570" cy="643" rx="3.5" ry="6" fill="#d060a8"/>
<ellipse cx="603" cy="634" rx="6" ry="4" fill="#c8489e"/>
</g><g filter="url(#bl)">
<circle cx="586.1" cy="641.6" r="5.25" fill="#a8409f"/>
<circle cx="596.3" cy="642.2" r="4.20" fill="#9a3699"/>
<circle cx="604.8" cy="641.6" r="3.99" fill="#9a3699"/>
<circle cx="611.1" cy="635.7" r="3.99" fill="#9a3699"/>
<circle cx="617" cy="645.2" r="4.73" fill="#9a3699"/>
<circle cx="597.3" cy="650.1" r="3.99" fill="#9a3699"/>
<circle cx="606.8" cy="652.7" r="3.99" fill="#9a3699"/>
<circle cx="625.9" cy="653.5" r="3.99" fill="#9a3699"/>
<circle cx="600.3" cy="659.4" r="3.99" fill="#9a3699"/>
<circle cx="607.2" cy="659" r="3.68" fill="#9a3699"/>
<circle cx="616" cy="658" r="4.83" fill="#9a3699"/>
<circle cx="619.4" cy="661" r="3.99" fill="#9a3699"/>
<circle cx="604.2" cy="664.9" r="3.99" fill="#9a3699"/>
<circle cx="611.5" cy="667.5" r="3.99" fill="#9a3699"/>
<circle cx="627.8" cy="665.3" r="3.99" fill="#9a3699"/>
<circle cx="597.9" cy="672.8" r="5.25" fill="#a8409f"/>
<circle cx="607.2" cy="673.8" r="3.99" fill="#9a3699"/>
<circle cx="616" cy="674.4" r="3.99" fill="#9a3699"/>
<circle cx="621.3" cy="670.4" r="3.68" fill="#9a3699"/>
<circle cx="632.8" cy="673.8" r="3.99" fill="#9a3699"/>
<circle cx="612.1" cy="680.1" r="3.99" fill="#9a3699"/>
<circle cx="621.9" cy="680.7" r="3.99" fill="#9a3699"/>
<circle cx="632.8" cy="681.6" r="3.99" fill="#9a3699"/>
<circle cx="643" cy="678.7" r="3.78" fill="#9a3699"/>
<circle cx="628.4" cy="688" r="3.99" fill="#9a3699"/>
<circle cx="636.7" cy="690.9" r="3.99" fill="#9a3699"/>
<circle cx="644.6" cy="688" r="3.99" fill="#9a3699"/>
<circle cx="680.5" cy="604.2" r="4.73" fill="#c0359c"/>
</g>
<line x1="658.40" y1="717.70" x2="670.20" y2="717.70" stroke="#1a1a1a" stroke-width="1.7"/>
<line x1="658.40" y1="715.40" x2="658.40" y2="720.00" stroke="#1a1a1a" stroke-width="1.6"/>
<line x1="670.20" y1="715.40" x2="670.20" y2="720.00" stroke="#1a1a1a" stroke-width="1.6"/>
</g>
<rect x="552.40" y="597.90" width="64.10" height="15.80" fill="#fff" stroke="none" stroke-width="1"/>
<text x="585.30" y="610.80" font-size="11.8" text-anchor="middle" fill="#1a1a1a">µLCR D18</text>
<rect x="552.4" y="597.9" width="132" height="131.6" fill="none" stroke="#2a2a2a" stroke-width="1.4"/>
<g clip-path="url(#cg3)">
<rect x="552.40" y="735.90" width="132.00" height="132.40" fill="url(#bg1)" stroke="none" stroke-width="1"/>
<g filter="url(#bl3)">
<ellipse cx="580" cy="805" rx="26" ry="32" fill="#cfb4c3"/>
<ellipse cx="650" cy="800" rx="36" ry="24" fill="#cfb4c3"/>
<ellipse cx="612" cy="800" rx="14" ry="18" fill="#d1b8c6"/>
</g>
<g filter="url(#bl)">
<ellipse cx="575" cy="808" rx="11" ry="10" fill="#d0b3c3" stroke="#bd98b1" stroke-width="0.9"/>
<ellipse cx="566" cy="779" rx="7" ry="7" fill="#d0b3c3" stroke="#bd98b1" stroke-width="0.9"/>
<ellipse cx="565" cy="787" rx="7" ry="6" fill="#d0b3c3" stroke="#bd98b1" stroke-width="0.9"/>
<ellipse cx="595.6" cy="787.4" rx="8" ry="8" fill="#d0b3c3" stroke="#bd98b1" stroke-width="0.9"/>
<ellipse cx="611.5" cy="785.4" rx="9" ry="9" fill="#d0b3c3" stroke="#bd98b1" stroke-width="0.9"/>
<ellipse cx="628.3" cy="777.5" rx="8" ry="8" fill="#d0b3c3" stroke="#bd98b1" stroke-width="0.9"/>
<ellipse cx="602.5" cy="809.2" rx="7" ry="7" fill="#d0b3c3" stroke="#bd98b1" stroke-width="0.9"/>
<ellipse cx="610.5" cy="823.1" rx="8" ry="7" fill="#d0b3c3" stroke="#bd98b1" stroke-width="0.9"/>
<ellipse cx="575.8" cy="807.2" rx="9" ry="9" fill="#d0b3c3" stroke="#bd98b1" stroke-width="0.9"/>
<ellipse cx="582" cy="830" rx="9" ry="7" fill="#d0b3c3" stroke="#bd98b1" stroke-width="0.9"/>
<ellipse cx="640" cy="786" rx="8" ry="8" fill="#d0b3c3" stroke="#bd98b1" stroke-width="0.9"/>
<ellipse cx="652" cy="782" rx="8" ry="8" fill="#d0b3c3" stroke="#bd98b1" stroke-width="0.9"/>
<ellipse cx="664" cy="781" rx="8" ry="8" fill="#d0b3c3" stroke="#bd98b1" stroke-width="0.9"/>
<ellipse cx="630" cy="805" rx="9" ry="9" fill="#d0b3c3" stroke="#bd98b1" stroke-width="0.9"/>
<ellipse cx="648" cy="800" rx="9" ry="9" fill="#d0b3c3" stroke="#bd98b1" stroke-width="0.9"/>
<ellipse cx="664" cy="806" rx="8" ry="8" fill="#d0b3c3" stroke="#bd98b1" stroke-width="0.9"/>
<ellipse cx="640" cy="817" rx="9" ry="9" fill="#d0b3c3" stroke="#bd98b1" stroke-width="0.9"/>
<ellipse cx="665" cy="822" rx="8" ry="8" fill="#d0b3c3" stroke="#bd98b1" stroke-width="0.9"/>
<ellipse cx="676" cy="812" rx="7" ry="7" fill="#d0b3c3" stroke="#bd98b1" stroke-width="0.9"/>
<ellipse cx="590" cy="800" rx="7" ry="7" fill="#d0b3c3" stroke="#bd98b1" stroke-width="0.9"/>
</g><g filter="url(#bl2)">
<ellipse cx="632" cy="820" rx="7" ry="8" fill="#dc5aa8"/>
<ellipse cx="579.6" cy="815" rx="5" ry="6" fill="#d27ab6"/>
<ellipse cx="619" cy="746" rx="8" ry="9" fill="#de86bd"/>
<ellipse cx="562" cy="864" rx="5" ry="4" fill="#d080b8"/>
<ellipse cx="626" cy="868" rx="5" ry="2.5" fill="#c070b0"/>
<ellipse cx="677" cy="867" rx="5" ry="2.5" fill="#d080b8"/>
</g><g filter="url(#bl)">
<circle cx="592.6" cy="755.7" r="3.50" fill="#80399a"/>
<circle cx="681.8" cy="756.7" r="3.50" fill="#80399a"/>
<circle cx="565.9" cy="776.5" r="3.80" fill="#80399a"/>
<circle cx="564.9" cy="786.4" r="3.80" fill="#80399a"/>
<circle cx="571.4" cy="794.3" r="3.80" fill="#80399a"/>
<circle cx="581.7" cy="790.4" r="3.80" fill="#80399a"/>
<circle cx="579.7" cy="796.3" r="3.50" fill="#80399a"/>
<circle cx="588.7" cy="799.7" r="5.00" fill="#80399a"/>
<circle cx="556" cy="802.3" r="3.80" fill="#80399a"/>
<circle cx="562.9" cy="801.3" r="3.50" fill="#80399a"/>
<circle cx="561.9" cy="808.2" r="3.80" fill="#80399a"/>
<circle cx="556.9" cy="814.2" r="3.80" fill="#80399a"/>
<circle cx="565.9" cy="817.1" r="3.80" fill="#80399a"/>
<circle cx="563.9" cy="823.1" r="3.80" fill="#80399a"/>
<circle cx="571.8" cy="822.1" r="3.80" fill="#80399a"/>
<circle cx="572.8" cy="828" r="3.80" fill="#80399a"/>
<circle cx="579.7" cy="823.1" r="3.80" fill="#80399a"/>
<circle cx="581.3" cy="831" r="4.80" fill="#a8409f"/>
<circle cx="587.3" cy="817.1" r="3.60" fill="#80399a"/>
<circle cx="590.6" cy="808.2" r="3.80" fill="#80399a"/>
<circle cx="591.6" cy="821.5" r="3.60" fill="#80399a"/>
<circle cx="628.3" cy="783.8" r="3.80" fill="#80399a"/>
<circle cx="639.2" cy="785.8" r="4.00" fill="#80399a"/>
<circle cx="650.1" cy="783.4" r="3.80" fill="#80399a"/>
<circle cx="658" cy="777.5" r="3.50" fill="#80399a"/>
<circle cx="664.6" cy="783.8" r="3.80" fill="#80399a"/>
<circle cx="656.1" cy="790.8" r="3.50" fill="#80399a"/>
<circle cx="666.6" cy="792.4" r="4.00" fill="#80399a"/>
<circle cx="621.4" cy="803.7" r="3.80" fill="#80399a"/>
<circle cx="631.3" cy="805.6" r="4.00" fill="#80399a"/>
<circle cx="634.9" cy="795.3" r="3.50" fill="#80399a"/>
<circle cx="646.2" cy="795.3" r="3.50" fill="#80399a"/>
<circle cx="639.2" cy="801.7" r="3.50" fill="#80399a"/>
<circle cx="646.2" cy="801.3" r="3.50" fill="#80399a"/>
<circle cx="653.1" cy="804.3" r="3.80" fill="#80399a"/>
<circle cx="663" cy="804.3" r="4.00" fill="#80399a"/>
<circle cx="671.3" cy="801.3" r="3.50" fill="#80399a"/>
<circle cx="678.9" cy="801.3" r="3.80" fill="#80399a"/>
<circle cx="676.9" cy="809.2" r="3.80" fill="#80399a"/>
<circle cx="666.6" cy="814.8" r="3.80" fill="#80399a"/>
<circle cx="638.2" cy="816.7" r="3.80" fill="#80399a"/>
<circle cx="663" cy="823.1" r="4.00" fill="#80399a"/>
<circle cx="679.9" cy="787.4" r="4.50" fill="#c0359c"/>
</g>
<line x1="665.40" y1="844.90" x2="677.30" y2="844.90" stroke="#1a1a1a" stroke-width="1.7"/>
<line x1="665.40" y1="842.60" x2="665.40" y2="847.20" stroke="#1a1a1a" stroke-width="1.6"/>
<line x1="677.30" y1="842.60" x2="677.30" y2="847.20" stroke="#1a1a1a" stroke-width="1.6"/>
</g>
<rect x="552.40" y="735.90" width="64.10" height="15.80" fill="#fff" stroke="none" stroke-width="1"/>
<text x="583.80" y="748.80" font-size="11.8" text-anchor="middle" fill="#1a1a1a">PVT1 D18</text>
<rect x="552.4" y="735.9" width="132" height="132.4" fill="none" stroke="#2a2a2a" stroke-width="1.4"/>
</svg>
</body></html>
